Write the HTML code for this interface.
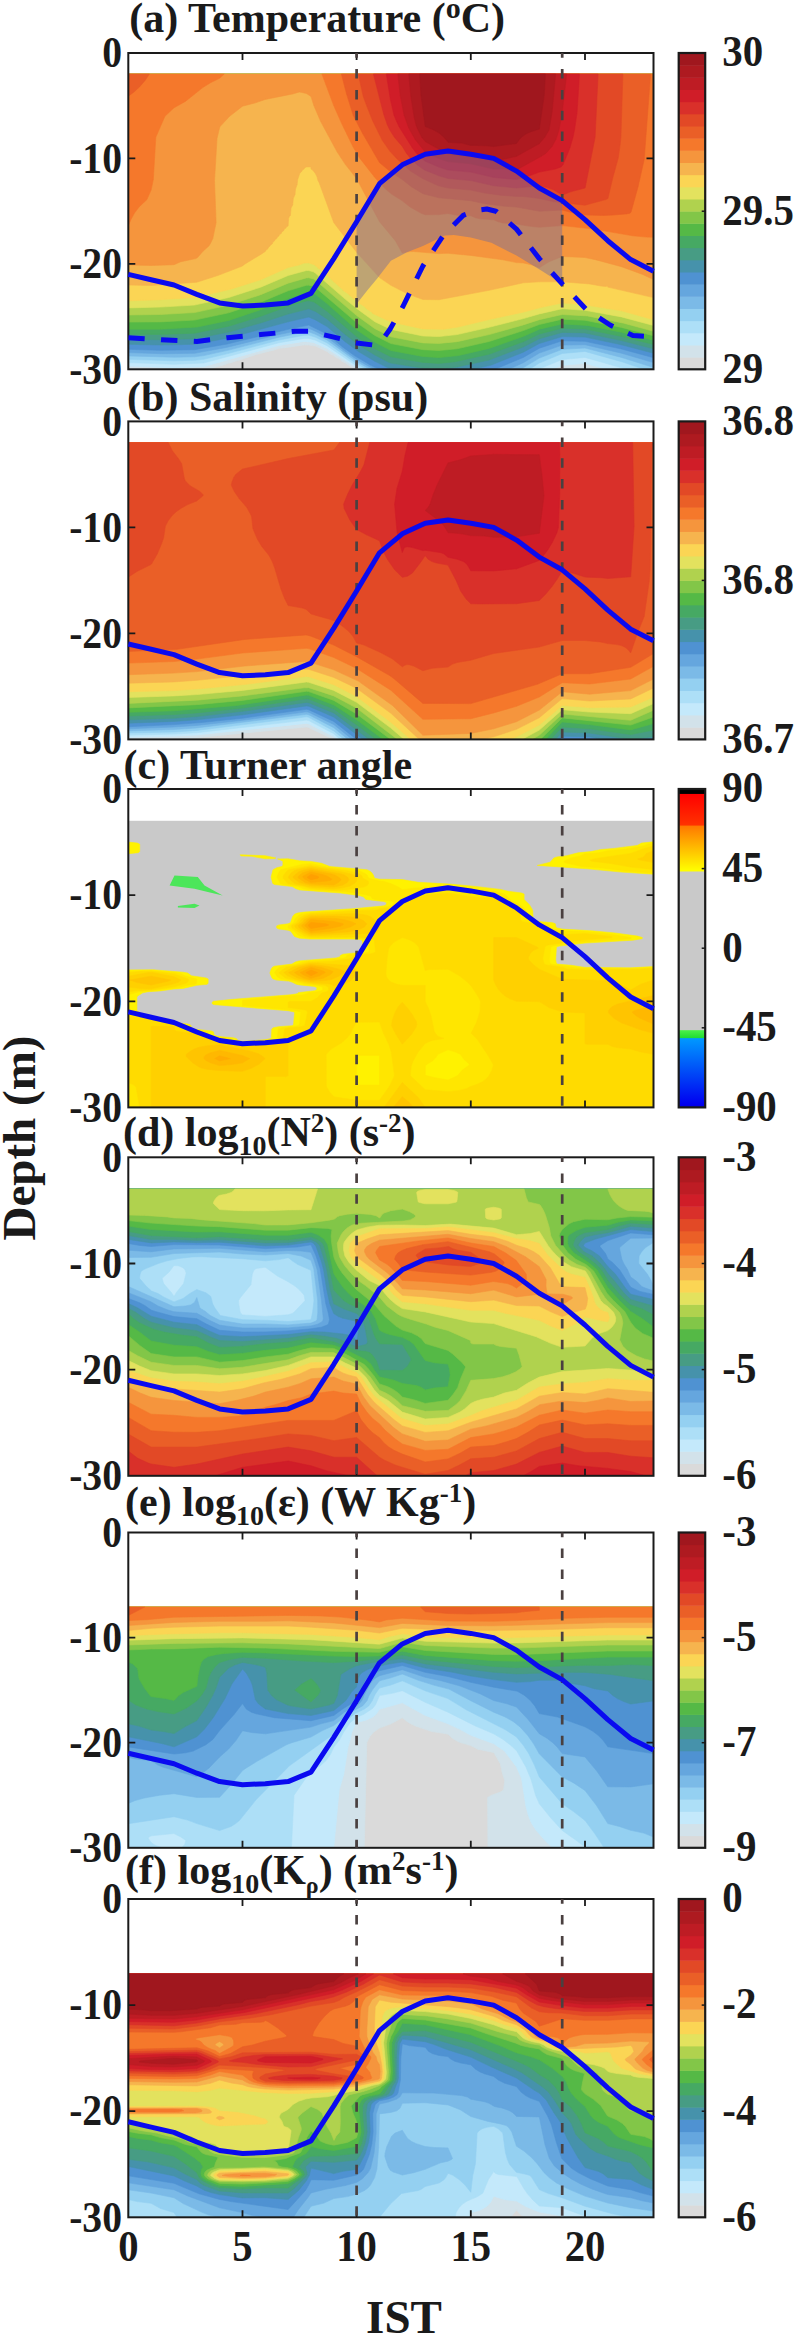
<!DOCTYPE html>
<html><head><meta charset="utf-8"><title>fig</title>
<style>html,body{margin:0;padding:0;background:#fff}svg{display:block}text{fill:#1a1a1a}</style></head>
<body><svg width="794" height="2338" viewBox="0 0 794 2338">
<rect width="794" height="2338" fill="#fff"/>
<clipPath id="clipa"><rect x="128.3" y="53.0" width="525.2" height="316.3"/></clipPath>
<clipPath id="clipb"><rect x="128.3" y="421.4" width="525.2" height="318.0"/></clipPath>
<clipPath id="clipc"><rect x="128.3" y="789.0" width="525.2" height="318.4"/></clipPath>
<clipPath id="clipd"><rect x="128.3" y="1157.3" width="525.2" height="318.5"/></clipPath>
<clipPath id="clipe"><rect x="128.3" y="1532.5" width="525.2" height="315.3"/></clipPath>
<clipPath id="clipf"><rect x="128.3" y="1899.0" width="525.2" height="318.3"/></clipPath>
<g clip-path="url(#clipa)"><rect x="128.3" y="74.1" width="525.2" height="295.2" fill="#dadada"/>
<path fill="#d2e2ea" stroke="#d2e2ea" stroke-width="0.6" fill-rule="evenodd" d="M128.3 74.1L653.5 74.1L653.5 369.3L354.5 369.3L345.2 362.9L341.3 360.9L340.7 359.8L334.6 356.6L333.8 355.6L329.6 353.5L327 351.4L315.5 346.1L308.8 345.1L304.1 344.9L283.6 348L279 348.2L274.4 349.9L256.1 354.5L237.9 360.6L235.6 360.9L231.1 362.7L228.8 363L224.2 364.8L208 369.3L128.3 369.3Z"/>
<path fill="#c4e9fb" stroke="#c4e9fb" stroke-width="0.6" fill-rule="evenodd" d="M128.3 74.1L653.5 74.1L653.5 369.3L606.3 369.3L585 363.3L562.2 365.4L552.1 369.3L358.7 369.3L327 348.5L313.3 342.4L304.1 341.4L279 345.5L203.7 366.7L174 367.9L128.3 366Z"/>
<path fill="#addff7" stroke="#addff7" stroke-width="0.6" fill-rule="evenodd" d="M128.3 74.1L653.5 74.1L653.5 369.3L626.8 369.3L585 357.4L562.2 359.5L538.2 369.3L362.6 369.3L356.6 366L327 345.7L315.5 340.2L308.7 338.4L304.1 338.4L279 342.7L203.7 363L174 364.3L128.3 362.6Z"/>
<path fill="#94d0f1" stroke="#94d0f1" stroke-width="0.6" fill-rule="evenodd" d="M128.3 74.1L653.5 74.1L653.5 369.3L644.2 369.3L622.4 361.9L585 351.4L562.2 353.5L539.3 363L529.5 369.3L366.4 369.3L356.6 363.8L327 342.8L315.5 337.2L308.7 335.1L304.1 335.3L279 340L228.8 353.3L203.7 359.3L194.5 360.2L174 360.8L128.3 359.3Z"/>
<path fill="#7bbae7" stroke="#7bbae7" stroke-width="0.6" fill-rule="evenodd" d="M128.3 74.1L653.5 74.1L653.5 367.5L621.5 357.4L585 348L562.2 349.3L539.3 358.1L520.7 369.3L370.2 369.3L356.6 361.6L327 340L315.5 334.3L308.7 331.7L304.1 332.2L279 337.2L228.8 350.1L203.7 355.6L194.5 356.8L174 357.2L128.3 355.9Z"/>
<path fill="#65a6de" stroke="#65a6de" stroke-width="0.6" fill-rule="evenodd" d="M128.3 74.1L653.5 74.1L653.5 362.6L621.5 353.2L585 344.7L562.2 345.1L539.3 353.1L523.3 362.7L508.7 369.3L374 369.3L356.6 359.4L343.9 350.3L327 337.1L313.3 330.2L308.7 328.4L279 334.5L226.5 347.4L194.5 353.3L162.6 353.7L128.3 352.6Z"/>
<path fill="#4f92d2" stroke="#4f92d2" stroke-width="0.6" fill-rule="evenodd" d="M128.3 74.1L653.5 74.1L653.5 357.7L621.5 349L585 341.3L562.2 340.8L539.3 348.2L523.3 357.4L494.9 369.3L379 369.3L370.3 365.1L354.4 355.6L342.9 347.2L327 334L308.7 325.1L290.4 328.8L227.1 344L194.5 349.7L160.3 350.3L128.3 349.3Z"/>
<path fill="#4692ab" stroke="#4692ab" stroke-width="0.6" fill-rule="evenodd" d="M128.3 74.1L653.5 74.1L653.5 353.2L621.5 344.8L585 337.1L562.2 336.6L539.3 343.5L523.3 352.2L491.4 365L473.1 369.3L393.3 369.3L388.6 368.1L374.9 361.3L358.9 351.8L345.2 341.7L327 326.6L315.5 319.9L308.7 317L288.1 321.8L228.8 337.9L194.5 344.3L160.3 345L128.3 344.3Z"/>
<path fill="#479c84" stroke="#479c84" stroke-width="0.6" fill-rule="evenodd" d="M128.3 74.1L653.5 74.1L653.5 348.8L621.5 340.6L585 332.9L562.2 332.4L539.3 338.7L523.3 346.9L489.1 360L457.1 367L441.1 369.1L422.9 368.2L390.9 363.1L388.6 362.2L374.9 355L358.9 345L345.2 334.4L327 318.9L315.5 311.4L308.7 308.8L288.1 314L260.7 322.9L228.8 332.1L194.5 338.7L160.3 339.8L128.3 339.3Z"/>
<path fill="#46a963" stroke="#46a963" stroke-width="0.6" fill-rule="evenodd" d="M128.3 74.1L653.5 74.1L653.5 344.5L621.5 336.4L585 329L562.2 328.2L539.3 334L523.3 341.7L489.1 354.2L454.8 361.8L438.9 363.4L422.9 362.4L390.9 356.8L374.9 348.7L356.6 336.6L327 311.2L315.5 302.9L313.3 301.7L308.7 300.7L306.4 300.9L288.1 306.2L260.7 316.3L228.8 326.2L194.5 333.2L160.3 334.5L128.3 334.2Z"/>
<path fill="#55b946" stroke="#55b946" stroke-width="0.6" fill-rule="evenodd" d="M128.3 74.1L653.5 74.1L653.5 340.3L621.5 332.2L587.3 325.4L562.2 324L539.3 329.2L523.3 336.4L489.1 348.4L458.5 355.6L438.9 357.6L422.9 356.5L390.9 350.5L374.9 342.3L356.6 329.7L327 303.6L315.5 294.5L313.3 293.3L308.7 292.5L306.4 292.7L288.1 298.4L260.7 309.7L228.8 320.4L197 327.1L160.3 329.2L128.3 329.2Z"/>
<path fill="#82c648" stroke="#82c648" stroke-width="0.6" fill-rule="evenodd" d="M128.3 74.1L653.5 74.1L653.5 335.8L621.5 327.4L585 320.3L562.2 319.2L539.3 324.5L523.3 330.6L489.1 341.5L457.1 348.8L438.9 350.5L422.9 349.7L390.9 343.6L374.9 335.5L356.6 322.6L315.5 287.4L313.3 286.1L308.7 285.2L306.4 285.3L288.1 290.8L260.7 302.2L228.8 312.8L194.5 320.1L160.3 321.9L128.3 322.1Z"/>
<path fill="#b0d24e" stroke="#b0d24e" stroke-width="0.6" fill-rule="evenodd" d="M128.3 74.1L653.5 74.1L653.5 331.3L623.8 323.2L587.3 315.9L562.2 314.5L539.3 319.7L523.3 324.9L489.1 334.6L457.1 341.7L438.9 343.4L422.9 342.9L390.9 336.8L374.9 328.7L356.6 315.5L315.5 280.3L313.3 278.9L308.7 277.8L306.4 277.9L288.1 283.2L260.7 294.7L228.8 305.1L194.5 312.6L160.3 314.5L128.3 315Z"/>
<path fill="#e3e25e" stroke="#e3e25e" stroke-width="0.6" fill-rule="evenodd" d="M128.3 74.1L653.5 74.1L653.5 325.5L621.5 316.9L585 310.3L562.2 308.7L539.3 313.9L523.3 318.6L489.1 327.3L457.1 334.6L438.9 336.6L422.9 336L390.9 329.4L374.9 321.8L357.7 309.2L345.2 299.1L315.5 273.2L313.3 271.8L308.7 270.5L306.4 270.5L288.1 275.5L260.7 287.2L228.8 297.5L194.5 305.1L160.3 307.1L128.3 307.9Z"/>
<path fill="#fbd554" stroke="#fbd554" stroke-width="0.6" fill-rule="evenodd" d="M128.3 74.1L653.5 74.1L653.5 319.7L621.5 310.8L582.7 304.5L562.2 302.9L541.6 307.3L522 312.4L491.4 319L457.9 327.1L443.4 329.3L422.9 328.9L390.9 321.9L372.6 313.4L372.2 312.4L365.8 308.2L365.3 307.1L358.9 302.9L358.4 301.8L352.1 297.6L351.7 296.6L349.8 295.6L349.1 294.4L342.9 290.2L342.7 289.2L340.7 288.1L340.3 287.1L338.4 286L338 285L336.1 283.9L335.7 282.8L333.8 281.9L333.3 280.7L331.5 279.8L331 278.6L329.2 277.7L328.6 276.5L327 275.6L319.9 269.1L317.8 268.1L317.6 267L315.5 266L315 264.9L308.7 262.9L304.1 263.1L299.1 264.9L288.1 267.5L260.7 279.7L230.8 289.2L194.5 297.6L160.6 299.7L128.3 300.8Z"/>
<path fill="#f6b44e" stroke="#f6b44e" stroke-width="0.6" fill-rule="evenodd" d="M128.3 74.1L653.5 74.1L653.5 297.6L607.8 287.1L607.8 286L605.5 286.4L601 286L589.6 283.9L562.2 281.8L539.3 281.8L523.3 282.8L489.1 290.3L438.9 299.7L422.9 299.5L406.9 293.5L390.9 285.3L379.5 277.6L356.6 252.3L333.8 222.7L319.2 182.7L318 180.6L316.9 176.4L315.2 173.2L312.6 170L311 169L311 166.9L306.4 166.9L304.4 167.9L304.1 169L302.4 170L301.8 171.3L299.8 173.2L297.7 179.5L297.1 184.8L295.5 189L295 194.4L293.3 198.5L292.7 204.9L291 208L290.4 215.4L289.4 216.4L288.6 218.5L288.1 225.9L286.2 227L285.9 228.1L284.3 229.1L283.6 230.7L281.6 232.2L281.3 233.4L279.7 234.3L279 235.8L277.1 237.5L276.7 238.6L275.1 239.6L274.4 241L272.5 242.8L272.2 243.9L270.5 244.9L269.9 246.2L268.7 247L267.6 249.1L265.8 250.2L265.3 251.4L260.8 254.4L243.5 264.9L242.5 266L217.8 275.5L196.8 282.2L151.1 285.5L128.3 285Z"/>
<path fill="#f5953d" stroke="#f5953d" stroke-width="0.6" fill-rule="evenodd" d="M128.3 74.1L653.5 74.1L653.5 279.6L642.6 274.4L621.5 266.7L596.4 259.9L585 257.5L562.2 256.4L549 261.8L539.3 267.8L532 264.9L523.3 262.9L516.5 262.6L502.8 259.8L470.8 255.4L448 253.3L438.9 253.6L413.7 251.5L409.2 251.6L402.3 253.1L395.3 240.7L379.5 221.7L356.6 178.6L345.6 164.8L337.2 152.1L320.7 121.5L313.9 105.7L311 96.4L306.4 93.5L299.6 91.9L292.7 93.9L265.3 99.4L256.2 102.6L242.5 106.2L229.6 116.3L219.8 126.8L217 138.4L214.5 180.6L216.1 222.7L212.8 238.6L210.3 243.8L208.9 245.9L203 251.2L197.6 257.5L195.8 258.6L180.8 261.7L174 264.7L151.1 265.5L128.3 264.9Z"/>
<path fill="#f5782b" stroke="#f5782b" stroke-width="0.6" fill-rule="evenodd" d="M128.3 74.1L224.2 74.1L219.6 78.3L210.5 82.7L202.4 87.8L185.4 101.4L174 107.8L164.9 116.3L155.8 137.3L153.3 179.5L151.1 190.1L146.9 199.6L139.1 206.9L134.3 213.3L130.9 219.6L128.3 225.9ZM321.9 74.1L653.5 74.1L653.5 237.2L646.6 237.1L632.9 235.8L593.7 229.1L562.2 225.6L539.3 227.2L530.2 226.3L516.5 224.1L502.8 222.9L498.2 221.7L493.7 219.8L480 218.8L475.4 217.7L470.8 215.7L457.1 215.3L448 213.5L438.9 214.6L425.2 214.7L421.2 213.3L410 206.9L402 200.6L391.9 194.3L386.7 190.1L379.5 182.8L374 176.4L359.2 157.4L353 146.8L341.7 123.6L333.8 105.7Z"/>
<path fill="#ea5f27" stroke="#ea5f27" stroke-width="0.6" fill-rule="evenodd" d="M128.3 74.1L149.4 74.1L145.1 80.4L139.7 86.7L134 92L128.3 96.2ZM341.4 74.1L650.6 74.1L644.2 159.5L638 186.9L631 212.2L629.8 213.3L626.1 213.9L612.4 215.1L603.3 215.4L585 214.9L571.3 212.4L562.2 210.1L539.3 211.2L516.5 207.1L502.8 206.1L484.9 203.8L470.8 200.7L438.9 197.8L422.9 193.7L411.7 186.9L402.3 179.6L390.9 172.1L379.5 162.6L362.4 133.1L353.2 115.2L346.6 94.1Z"/>
<path fill="#e24926" stroke="#e24926" stroke-width="0.6" fill-rule="evenodd" d="M358.2 74.1L622.9 74.1L620.9 137.3L620.1 144.7L618.4 157.4L612.9 177.4L607.9 198.5L605.7 199.6L585 205.2L553.9 201.7L539.3 198.5L531.7 197.4L523.3 196.5L516.5 196.4L500.5 195.2L484.5 193L470.8 190.1L448 188L438.4 185.8L422.9 178.7L410.5 171.1L396.6 158.4L389.8 151.1L382.4 140.5L372.5 120.5L365.8 103.6L363.2 96.2Z"/>
<path fill="#d9302a" stroke="#d9302a" stroke-width="0.6" fill-rule="evenodd" d="M373.4 74.1L598.1 74.1L595.1 137.3L585.1 188L571.3 191.6L562.2 195L553 189.6L546.2 187.3L539.3 185.8L516.5 188L493.7 185.8L470.8 180.6L448 178.5L438.9 175.8L424.5 170L417.1 164.8L410.6 158.4L406.4 153.2L402.3 146.4L394.4 137.3L389.8 130L387.3 124.7L383.7 114.2Z"/>
<path fill="#d01d28" stroke="#d01d28" stroke-width="0.6" fill-rule="evenodd" d="M386.3 74.1L579.5 74.1L577 113.1L574.5 130L573 137.3L569.9 147.9L563 164.8L561.1 166.9L555.4 169L539.3 172.1L530.7 175.3L516.5 179.5L493.7 177.4L470.8 172.1L448 170L438.9 167.1L425.2 161.2L417.3 154.2L412.4 147.9L399.1 126.8L396.6 121.5L394 115.2L390.4 99.4Z"/>
<path fill="#be1c24" stroke="#be1c24" stroke-width="0.6" fill-rule="evenodd" d="M397.8 74.1L566.7 74.1L562.1 113.1L559 130L555.9 139.5L551.8 146.8L546 153.2L541.3 156.3L516.5 169.9L505.1 169.1L493.7 169L470.8 163.7L448 161.6L438.9 158.6L425.2 152.1L415.2 139.5L408.7 127.9L404.1 115.2L400.2 95.2Z"/>
<path fill="#ae1a20" stroke="#ae1a20" stroke-width="0.6" fill-rule="evenodd" d="M408.8 74.1L555.6 74.1L552.1 112L549 130L544.7 137.3L539.3 143.7L516.5 156.3L493.7 161.4L486.8 158.9L480 157.4L448 154.1L425.2 141.6L421.8 137.3L417.6 128.9L416.3 125.7L414.2 117.3L410.8 96.2Z"/>
<path fill="#a0171e" stroke="#a0171e" stroke-width="0.6" fill-rule="evenodd" d="M419.7 74.1L545.4 74.1L544.2 95.2L539.3 129.1L530.2 131.9L525.3 134.2L520.1 138.4L516.5 143.4L514.9 143.7L493.7 146.5L484.5 145.6L470.8 145.4L461.7 143.1L448 142.3L445.2 138.4L439.2 133.1L433.8 130L425.2 126.4L421 95.2Z"/></g>
<polygon points="356.6,221.7 379.5,183.7 402.3,164.8 425.2,154.2 448.0,151.1 470.8,154.2 493.7,158.4 516.5,171.1 539.3,188.0 562.2,200.6 562.2,283.9 541.6,270.7 516.5,255.4 491.4,242.8 470.8,237.5 453.9,234.9 444.8,235.4 422.9,245.9 406.9,252.3 390.9,260.7 377.2,278.6 367.4,290.2 356.6,303.9" fill="#7a6c96" fill-opacity="0.47"/>
<rect x="128.3" y="53.0" width="525.2" height="316.3" fill="none" stroke="#1a1a1a" stroke-width="2"/>
<path d="M242.5 53.0v7M242.5 369.3v-7M356.6 53.0v7M356.6 369.3v-7M470.8 53.0v7M470.8 369.3v-7M585.0 53.0v7M585.0 369.3v-7M128.3 158.4h7M653.5 158.4h-7M128.3 263.9h7M653.5 263.9h-7" stroke="#1a1a1a" stroke-width="1.8" fill="none"/>
<line x1="356.6" y1="53.0" x2="356.6" y2="369.3" stroke="#4a4040" stroke-width="2.7" stroke-dasharray="9.5 11.3" stroke-dashoffset="4.7"/>
<line x1="562.2" y1="53.0" x2="562.2" y2="369.3" stroke="#4a4040" stroke-width="2.7" stroke-dasharray="9.5 11.3" stroke-dashoffset="4.7"/>
<text transform="translate(122,67.2) scale(0.915,1)" text-anchor="end" font-size="43.3" font-family="Liberation Serif" font-weight="bold">0</text>
<text transform="translate(122,172.6) scale(0.915,1)" text-anchor="end" font-size="43.3" font-family="Liberation Serif" font-weight="bold">-10</text>
<text transform="translate(122,278.1) scale(0.915,1)" text-anchor="end" font-size="43.3" font-family="Liberation Serif" font-weight="bold">-20</text>
<text transform="translate(122,383.5) scale(0.915,1)" text-anchor="end" font-size="43.3" font-family="Liberation Serif" font-weight="bold">-30</text>
<polyline points="128.3,274.4 151.1,279.7 174.0,285.0 196.8,294.4 219.6,302.9 242.5,306.0 265.3,305.0 288.1,302.9 311.0,293.4 333.8,258.6 356.6,221.7 379.5,183.7 402.3,164.8 425.2,154.2 448.0,151.1 470.8,154.2 493.7,158.4 516.5,171.1 539.3,188.0 562.2,200.6 585.0,219.6 607.8,240.7 630.7,259.6 653.5,271.2" fill="none" stroke="#0a0af0" stroke-width="5" stroke-linejoin="round"/>
<polyline points="128.3,337.7 161.2,339.8 196.8,341.4 227.6,337.7 260.7,334.5 295.0,331.3 308.7,331.3 333.8,337.1 356.6,342.9 373.8,345.1 381.8,340.8 390.0,329.2 403.2,306.0 422.9,266.0 443.4,235.4 463.1,215.4 477.7,210.1 486.8,209.0 495.9,211.2 516.5,229.1 539.3,258.6 562.2,283.9 586.1,309.2 610.1,325.0 632.9,335.6 653.5,336.6" fill="none" stroke="#0a0af0" stroke-width="5" stroke-dasharray="16.4 16.4" stroke-linejoin="round" clip-path="url(#clipa)"/>
<rect x="678.7" y="357.13" width="26.5" height="12.67" fill="#dadada"/>
<rect x="678.7" y="344.97" width="26.5" height="12.67" fill="#d2e2ea"/>
<rect x="678.7" y="332.80" width="26.5" height="12.67" fill="#c4e9fb"/>
<rect x="678.7" y="320.64" width="26.5" height="12.67" fill="#addff7"/>
<rect x="678.7" y="308.47" width="26.5" height="12.67" fill="#94d0f1"/>
<rect x="678.7" y="296.31" width="26.5" height="12.67" fill="#7bbae7"/>
<rect x="678.7" y="284.14" width="26.5" height="12.67" fill="#65a6de"/>
<rect x="678.7" y="271.98" width="26.5" height="12.67" fill="#4f92d2"/>
<rect x="678.7" y="259.81" width="26.5" height="12.67" fill="#4692ab"/>
<rect x="678.7" y="247.65" width="26.5" height="12.67" fill="#479c84"/>
<rect x="678.7" y="235.48" width="26.5" height="12.67" fill="#46a963"/>
<rect x="678.7" y="223.32" width="26.5" height="12.67" fill="#55b946"/>
<rect x="678.7" y="211.15" width="26.5" height="12.67" fill="#82c648"/>
<rect x="678.7" y="198.98" width="26.5" height="12.67" fill="#b0d24e"/>
<rect x="678.7" y="186.82" width="26.5" height="12.67" fill="#e3e25e"/>
<rect x="678.7" y="174.65" width="26.5" height="12.67" fill="#fbd554"/>
<rect x="678.7" y="162.49" width="26.5" height="12.67" fill="#f6b44e"/>
<rect x="678.7" y="150.32" width="26.5" height="12.67" fill="#f5953d"/>
<rect x="678.7" y="138.16" width="26.5" height="12.67" fill="#f5782b"/>
<rect x="678.7" y="125.99" width="26.5" height="12.67" fill="#ea5f27"/>
<rect x="678.7" y="113.83" width="26.5" height="12.67" fill="#e24926"/>
<rect x="678.7" y="101.66" width="26.5" height="12.67" fill="#d9302a"/>
<rect x="678.7" y="89.50" width="26.5" height="12.67" fill="#d01d28"/>
<rect x="678.7" y="77.33" width="26.5" height="12.67" fill="#be1c24"/>
<rect x="678.7" y="65.17" width="26.5" height="12.67" fill="#ae1a20"/>
<rect x="678.7" y="53.00" width="26.5" height="12.67" fill="#a0171e"/>
<rect x="678.7" y="53.0" width="26.5" height="316.3" fill="none" stroke="#1a1a1a" stroke-width="2.2"/>
<text transform="translate(722.3,66.3) scale(0.945,1)" font-size="43.3" font-family="Liberation Serif" font-weight="bold">30</text>
<path d="M705.2 211.2h-3.5" stroke="#1a1a1a" stroke-width="1.5"/>
<text transform="translate(722.3,224.5) scale(0.945,1)" font-size="43.3" font-family="Liberation Serif" font-weight="bold">29.5</text>
<text transform="translate(722.3,382.6) scale(0.945,1)" font-size="43.3" font-family="Liberation Serif" font-weight="bold">29</text>
<text x="129.2" y="32.2" font-size="42" font-family="Liberation Serif" font-weight="bold">(a) Temperature (<tspan dy="-14" font-size="30">o</tspan><tspan dy="14">C)</tspan></text>
<g clip-path="url(#clipb)"><rect x="128.3" y="442.6" width="525.2" height="296.8" fill="#dadada"/>
<path fill="#d2e2ea" stroke="#d2e2ea" stroke-width="0.6" fill-rule="evenodd" d="M128.3 442.6L653.5 442.6L653.5 739.4L333.8 739.4L308.7 727.6L306.4 727.1L192.2 738L174 738.3L162.6 739.2L128.3 739.4Z"/>
<path fill="#c4e9fb" stroke="#c4e9fb" stroke-width="0.6" fill-rule="evenodd" d="M128.3 442.6L653.5 442.6L653.5 739.4L337 739.4L333.8 736.6L308.7 723.9L306.4 723.4L196.8 735L174 736.2L128.3 737.3Z"/>
<path fill="#addff7" stroke="#addff7" stroke-width="0.6" fill-rule="evenodd" d="M128.3 442.6L653.5 442.6L653.5 739.4L340.3 739.4L333.8 733.7L308.7 720.6L306.4 720.1L196.8 732.7L174 734.1L128.3 735.2Z"/>
<path fill="#94d0f1" stroke="#94d0f1" stroke-width="0.6" fill-rule="evenodd" d="M128.3 442.6L653.5 442.6L653.5 739.4L344 739.4L333.8 730.9L308.7 717.3L306.4 716.8L196.8 730.4L174 732L128.3 733Z"/>
<path fill="#7bbae7" stroke="#7bbae7" stroke-width="0.6" fill-rule="evenodd" d="M128.3 442.6L653.5 442.6L653.5 739.4L348 739.4L333.8 727.7L308.7 714.7L306.4 714.3L196.8 727.9L174 729.5L128.3 730.9Z"/>
<path fill="#65a6de" stroke="#65a6de" stroke-width="0.6" fill-rule="evenodd" d="M128.3 442.6L653.5 442.6L653.5 739.4L352.3 739.4L333.8 724.6L308.7 712.2L306.4 711.8L242.5 720.3L196.8 725.4L174 727L128.3 728.8Z"/>
<path fill="#4f92d2" stroke="#4f92d2" stroke-width="0.6" fill-rule="evenodd" d="M128.3 442.6L653.5 442.6L653.5 739.4L356.6 739.4L333.8 721.4L308.7 709.7L306.4 709.3L242.5 718.2L201.4 722.5L174 724.6L128.3 726.7Z"/>
<path fill="#4692ab" stroke="#4692ab" stroke-width="0.6" fill-rule="evenodd" d="M128.3 442.6L653.5 442.6L653.5 739.4L603.3 739.4L589.6 736.8L562.2 736.2L559.2 739.4L363 739.4L333.8 717.1L308.7 706.2L306.4 705.9L242.5 714.8L196.8 719.8L174 721.4L128.3 723.2Z"/>
<path fill="#479c84" stroke="#479c84" stroke-width="0.6" fill-rule="evenodd" d="M128.3 442.6L653.5 442.6L653.5 736.7L630.7 739.4L589.6 733L562.2 732L555.2 739.4L369.3 739.4L333.8 712.9L308.7 702.7L306.4 702.4L242.5 711.3L196.8 716.6L174 718.2L128.3 719.8Z"/>
<path fill="#46a963" stroke="#46a963" stroke-width="0.6" fill-rule="evenodd" d="M128.3 442.6L653.5 442.6L653.5 730.1L630.7 734.6L589.6 728.8L562.2 726.9L550.4 739.4L376.2 739.4L356.6 724.8L333.8 708.9L308.7 699L306.4 698.8L242.5 708.1L196.8 712.9L174 714.5L128.3 716.1Z"/>
<path fill="#55b946" stroke="#55b946" stroke-width="0.6" fill-rule="evenodd" d="M128.3 442.6L653.5 442.6L653.5 723.5L630.7 729.9L589.6 724.6L562.2 722L545.4 739.4L383.2 739.4L356.6 719.8L333.8 704.9L308.7 695.3L306.4 695.1L236.6 705.5L174 710.8L128.3 712.3Z"/>
<path fill="#82c648" stroke="#82c648" stroke-width="0.6" fill-rule="evenodd" d="M128.3 442.6L653.5 442.6L653.5 716.9L630.7 725.1L562.2 717.9L540.4 739.4L390.7 739.4L356.6 714L333.8 700.4L308.7 691.6L306.4 691.3L242.5 700.4L196.8 704.7L128.3 707.9Z"/>
<path fill="#b0d24e" stroke="#b0d24e" stroke-width="0.6" fill-rule="evenodd" d="M128.3 442.6L653.5 442.6L653.5 710.2L630.7 720.3L562.2 714L539.3 735.2L531.7 739.4L397.5 739.4L356.6 708.1L333.8 695.9L308.7 687.7L304.1 687.8L242.5 695.9L196.8 700.2L128.3 703.4Z"/>
<path fill="#e3e25e" stroke="#e3e25e" stroke-width="0.6" fill-rule="evenodd" d="M128.3 442.6L653.5 442.6L653.5 703.6L630.7 713.7L589.6 712.1L562.2 709.7L539.3 730.1L521.9 739.4L404.2 739.4L390.9 728.1L356.6 702.3L333.8 690.4L308.7 682.3L306.4 682L242.5 690.4L196.8 694.6L174 695.9L128.3 697.5Z"/>
<path fill="#fbd554" stroke="#fbd554" stroke-width="0.6" fill-rule="evenodd" d="M128.3 442.6L653.5 442.6L653.5 697L630.7 707L589.6 707.6L562.2 705.5L539.3 725L516.5 736.7L508.7 739.4L410.9 739.4L389.9 721.4L356.6 696.4L333.8 684.7L308.7 676.7L306.4 676.4L246.3 684.3L202.3 688.5L174 690.6L128.3 691.7Z"/>
<path fill="#f6b44e" stroke="#f6b44e" stroke-width="0.6" fill-rule="evenodd" d="M128.3 442.6L653.5 442.6L653.5 688L630.7 698.9L589.6 701L562.2 698.6L539.3 717.7L516.5 729.3L493.7 736.8L481.6 739.4L419.4 739.4L390.9 713.3L356.6 688.3L333.8 677.4L308.7 669.3L306.4 669L196.8 680.3L174 681.9L128.3 683.2Z"/>
<path fill="#f5953d" stroke="#f5953d" stroke-width="0.6" fill-rule="evenodd" d="M128.3 442.6L653.5 442.6L653.5 679L630.7 690.6L589.6 694.2L562.2 691.7L539.3 710.1L516.5 721.7L493.7 728.8L470.8 733.4L422.9 735.2L392.5 705.5L358.3 681.1L333.8 669.8L308.7 661.8L306.4 661.4L244.8 666L196.8 671.6L174 673.1L128.3 674.7Z"/>
<path fill="#f5782b" stroke="#f5782b" stroke-width="0.6" fill-rule="evenodd" d="M128.3 442.6L653.5 442.6L653.5 666.3L630.7 679L589.6 684L562.2 682.7L539.3 697L516.5 706.3L493.7 712.9L470.8 718.7L422.9 719.3L390.9 690.3L356.6 668.4L333.8 657.5L308.7 648.6L306.4 648.3L242.5 653L196.8 659.1L174 661.5L128.3 663.1Z"/>
<path fill="#ea5f27" stroke="#ea5f27" stroke-width="0.6" fill-rule="evenodd" d="M128.3 442.6L653.5 442.6L653.5 653.5L630.7 667.3L589.6 673.7L562.2 673.7L537.3 684.3L470.8 703.6L422.9 703.4L394.4 679L390.1 675.8L356.6 656.7L333.8 645.1L311 636.2L306.4 634.9L244.8 639.4L177.1 649.3L128.3 651.4Z"/>
<path fill="#e24926" stroke="#e24926" stroke-width="0.6" fill-rule="evenodd" d="M128.3 442.6L168.3 442.6L172.5 451.1L178.5 458.7L181.7 463.8L184.4 478.6L185.2 480.8L190 485.7L199.9 491.4L202.8 494.5L203.2 495.6L196.8 500.9L187.7 504.6L180.8 508.4L176.5 511.5L171.9 515.7L168 521L165.3 526.3L163.6 538L161.7 543.3L157.3 553.9L151.8 563.4L151 564.5L137.4 571.2L128.3 577.2ZM339.5 442.6L653.5 442.6L651.6 453.2L650.7 544.4L650.1 569.8L649.2 581.5L644.2 616.4L637.4 633.4L630.7 652.9L627.7 649.3L625 647.2L621.5 645.6L617 644.6L607.8 643.6L600.4 641.9L585 640.5L562.2 640.5L539.3 647L493.7 653.5L470.8 660.2L457.1 662.5L452.5 664.1L448 667L432 668.3L422.9 670.7L413.7 666.1L409.2 664.7L406.9 664.6L404.8 665.2L402.3 666.8L392.3 658.8L380.5 652.5L363.5 644.8L356.6 643L353.1 636.6L348.7 631.3L342.2 626L333.8 620.5L311 613.9L306.4 609.5L302.4 608L288.1 605.5L284.6 598.4L280.9 588.9L274.6 567.7L272.2 561.3L268.7 555L261.8 546.5L257.3 539.1L252.9 528.5L251.6 516.8L250.8 514.7L246.7 507.3L239.3 498.8L234.3 491.4L231.2 485L232.1 481.8L233.7 477.6L235.7 474.4L242.5 469.1L288.1 458.6L333.8 450Z"/>
<path fill="#d9302a" stroke="#d9302a" stroke-width="0.6" fill-rule="evenodd" d="M369.7 442.6L632.7 442.6L634.1 526.3L630.7 576.8L607.8 578.5L601 577.7L587.4 577.2L585 577L572.4 573L562.2 570.9L557.1 579.3L551.8 586.8L545.6 594.2L539.3 600.5L516.5 603.7L482.2 603.9L470.8 603.8L466.3 599.3L460.6 591L456.1 580.4L448 565.1L436.6 563L432 561.6L428.1 559.2L425.2 555.6L421.4 561.3L412.4 573L407.5 576.2L402.3 577.3L394.7 569.8L387.3 559.2L383 550.7L379.5 540.8L366.5 534.8L356.6 529.5L349.8 520L344.1 508.3L343.6 504.1L347.5 494.5L352.2 485L360.1 472.3L363.9 464.9Z"/>
<path fill="#d01d28" stroke="#d01d28" stroke-width="0.6" fill-rule="evenodd" d="M408 442.6L559.3 442.6L559.8 454.3L559.7 493.5L558.4 527.4L556.9 532.7L552.4 542.2L547.9 549.7L543.1 556L539.3 560.4L516.5 568.8L493.7 570.9L470.8 570.8L467.2 564.5L464 561.8L457.2 559.2L448 557.3L444.1 553.9L441.1 552.7L425.2 550.3L422.9 550.6L411.5 547.3L406.9 546.7L404.4 547.5L402.3 552.5L397.1 532.7L394.6 504.1L397 488.2L402.3 471.2L405 455.3Z"/>
<path fill="#be1c24" stroke="#be1c24" stroke-width="0.6" fill-rule="evenodd" d="M493.7 454.4L539.3 454.7L541.9 474.4L544 495.6L539.3 533.2L516.5 536.8L493.7 537.2L484.5 536L470.8 535.6L461.9 533.8L448 532.6L444.3 526.3L440.6 522.1L425.2 510.4L428.3 507.3L430.1 504.1L433.2 494.5L437.1 485L448 462.9L461.1 459.6L470.8 456Z"/></g>
<rect x="128.3" y="421.4" width="525.2" height="318.0" fill="none" stroke="#1a1a1a" stroke-width="2"/>
<path d="M242.5 421.4v7M242.5 739.4v-7M356.6 421.4v7M356.6 739.4v-7M470.8 421.4v7M470.8 739.4v-7M585.0 421.4v7M585.0 739.4v-7M128.3 527.4h7M653.5 527.4h-7M128.3 633.4h7M653.5 633.4h-7" stroke="#1a1a1a" stroke-width="1.8" fill="none"/>
<line x1="356.6" y1="421.4" x2="356.6" y2="739.4" stroke="#4a4040" stroke-width="2.7" stroke-dasharray="9.5 11.3" stroke-dashoffset="4.7"/>
<line x1="562.2" y1="421.4" x2="562.2" y2="739.4" stroke="#4a4040" stroke-width="2.7" stroke-dasharray="9.5 11.3" stroke-dashoffset="4.7"/>
<text transform="translate(122,435.6) scale(0.915,1)" text-anchor="end" font-size="43.3" font-family="Liberation Serif" font-weight="bold">0</text>
<text transform="translate(122,541.6) scale(0.915,1)" text-anchor="end" font-size="43.3" font-family="Liberation Serif" font-weight="bold">-10</text>
<text transform="translate(122,647.6) scale(0.915,1)" text-anchor="end" font-size="43.3" font-family="Liberation Serif" font-weight="bold">-20</text>
<text transform="translate(122,753.6) scale(0.915,1)" text-anchor="end" font-size="43.3" font-family="Liberation Serif" font-weight="bold">-30</text>
<polyline points="128.3,644.0 151.1,649.3 174.0,654.6 196.8,664.1 219.6,672.6 242.5,675.8 265.3,674.7 288.1,672.6 311.0,663.1 333.8,628.1 356.6,591.0 379.5,552.8 402.3,533.8 425.2,523.2 448.0,520.0 470.8,523.2 493.7,527.4 516.5,540.1 539.3,557.1 562.2,569.8 585.0,588.9 607.8,610.1 630.7,629.2 653.5,640.8" fill="none" stroke="#0a0af0" stroke-width="5" stroke-linejoin="round"/>
<rect x="678.7" y="727.17" width="26.5" height="12.73" fill="#dadada"/>
<rect x="678.7" y="714.94" width="26.5" height="12.73" fill="#d2e2ea"/>
<rect x="678.7" y="702.71" width="26.5" height="12.73" fill="#c4e9fb"/>
<rect x="678.7" y="690.48" width="26.5" height="12.73" fill="#addff7"/>
<rect x="678.7" y="678.25" width="26.5" height="12.73" fill="#94d0f1"/>
<rect x="678.7" y="666.02" width="26.5" height="12.73" fill="#7bbae7"/>
<rect x="678.7" y="653.78" width="26.5" height="12.73" fill="#65a6de"/>
<rect x="678.7" y="641.55" width="26.5" height="12.73" fill="#4f92d2"/>
<rect x="678.7" y="629.32" width="26.5" height="12.73" fill="#4692ab"/>
<rect x="678.7" y="617.09" width="26.5" height="12.73" fill="#479c84"/>
<rect x="678.7" y="604.86" width="26.5" height="12.73" fill="#46a963"/>
<rect x="678.7" y="592.63" width="26.5" height="12.73" fill="#55b946"/>
<rect x="678.7" y="580.40" width="26.5" height="12.73" fill="#82c648"/>
<rect x="678.7" y="568.17" width="26.5" height="12.73" fill="#b0d24e"/>
<rect x="678.7" y="555.94" width="26.5" height="12.73" fill="#e3e25e"/>
<rect x="678.7" y="543.71" width="26.5" height="12.73" fill="#fbd554"/>
<rect x="678.7" y="531.48" width="26.5" height="12.73" fill="#f6b44e"/>
<rect x="678.7" y="519.25" width="26.5" height="12.73" fill="#f5953d"/>
<rect x="678.7" y="507.02" width="26.5" height="12.73" fill="#f5782b"/>
<rect x="678.7" y="494.78" width="26.5" height="12.73" fill="#ea5f27"/>
<rect x="678.7" y="482.55" width="26.5" height="12.73" fill="#e24926"/>
<rect x="678.7" y="470.32" width="26.5" height="12.73" fill="#d9302a"/>
<rect x="678.7" y="458.09" width="26.5" height="12.73" fill="#d01d28"/>
<rect x="678.7" y="445.86" width="26.5" height="12.73" fill="#be1c24"/>
<rect x="678.7" y="433.63" width="26.5" height="12.73" fill="#ae1a20"/>
<rect x="678.7" y="421.40" width="26.5" height="12.73" fill="#a0171e"/>
<rect x="678.7" y="421.4" width="26.5" height="318.0" fill="none" stroke="#1a1a1a" stroke-width="2.2"/>
<text transform="translate(722.3,434.7) scale(0.945,1)" font-size="43.3" font-family="Liberation Serif" font-weight="bold">36.8</text>
<path d="M705.2 580.4h-3.5" stroke="#1a1a1a" stroke-width="1.5"/>
<text transform="translate(722.3,593.7) scale(0.945,1)" font-size="43.3" font-family="Liberation Serif" font-weight="bold">36.8</text>
<text transform="translate(722.3,752.7) scale(0.945,1)" font-size="43.3" font-family="Liberation Serif" font-weight="bold">36.7</text>
<text x="127.1" y="411.4" font-size="42" font-family="Liberation Serif" font-weight="bold">(b) Salinity (psu)</text>
<g clip-path="url(#clipc)"><rect x="128.3" y="820.8" width="525.2" height="286.6" fill="#c9c9c9"/>
<path fill="#fff200" stroke="#fff200" stroke-width="0.6" fill-rule="evenodd" d="M128.3 842.1L137.3 843.1L139.7 844.2L139.7 851.6L138.2 852.7L128.3 853.7ZM653.5 841.8L653.5 874.2L621.5 872.1L587.3 868.8L537.3 865.4L550.2 862.2L553.8 858L557 856.9L566.7 855.7L578.1 852.8L590.8 851.6L601.1 849.5L613.9 848.4L635.2 845.7L637.6 845.3L641.5 843.1ZM240.1 854.8L265.3 855.7L275.9 858L274.4 858.6L265.3 858.8L251.6 856.3L241 855.9ZM277.5 859L288.1 858.8L299.6 860.8L311 861.4L321.6 863.3L329.8 866.5L366.8 869.7L369.4 870.7L371.8 872.8L373.3 875L374.5 878.2L379.5 879.2L402.3 879.6L418.3 882.3L450.3 884.1L475.4 886.4L500.5 889.4L507.4 891.1L521.6 893L524.1 894.1L524.1 899.4L529.4 904.7L532 908.9L532.8 911.1L533.1 919.5L534 920.6L539.3 921.6L552.6 922.7L555.3 923.8L555.9 927L557.3 928L562.2 929.1L591.8 930.8L614.7 932.9L637.5 936.1L642.4 937.6L642.1 938.7L632.9 940.2L585 943.1L559.2 946.1L556.4 947.1L555.7 959.9L556.3 963.1L557.3 964.1L571.3 965.3L585 967.4L630.7 967.8L653.5 966.6L653.5 1107.4L128.3 1107.4L128.3 969.9L153.4 969.8L183.1 972.2L187.7 973.1L191.4 975.8L205.9 977.9L208.2 979L208.1 983.2L207.2 984.3L196.8 985.3L183.1 988.4L174 989L160.3 990.9L148.1 991.7L142.8 992.8L137.6 996L136.9 997L136.9 1010.8L147 1017.2L162.6 1018.2L167 1019.3L168.3 1020.4L168.3 1021.4L171.8 1022.5L187.7 1023.9L190 1024.6L191.1 1025.7L191.1 1027.8L192.3 1028.9L211.6 1031L213.6 1032L214.1 1035.2L215.1 1035.6L219.6 1036.6L233.3 1037.7L236.2 1038.4L236.9 1039.5L238.5 1040.5L242.5 1041.4L265.3 1039.7L271.3 1038.4L271.8 1028.9L273.3 1027.8L278.4 1026.7L292.2 1025.7L293.5 1024.6L294.6 1012.9L294.1 1011.9L288.1 1010.7L215.1 1004.7L213.4 1004.5L212 1003.4L212.2 1002.3L213.4 1001.3L233.3 999.3L290.4 994.8L297.1 993.8L298.1 992.8L299.6 992.5L314.6 990.7L316.9 989.6L316.8 987.5L314.1 986.4L299.6 984.9L296.4 984.3L292.3 982.2L288.8 981.1L276.7 980.1L273.2 979L272 977.9L270.1 973.7L270 972.6L271.1 969.4L272.3 967.3L274.3 966.2L292 964.1L295.4 962L298.9 960.9L336.1 957.9L340.3 956.7L340.3 955.6L342.9 954.2L360.3 952.4L362.7 951.4L362.7 941.8L361.5 939.7L356.6 939.1L311 939.1L299.6 938.2L294.5 936.5L290.8 931.2L288.1 930.2L279 929L276.7 928L276.7 925.9L279.1 924.9L288.1 923.8L290.5 922.7L292.7 916.4L294.5 914.2L297.3 913.1L304.1 912.1L356.6 908.4L381.8 906.1L384 905.7L386.2 904.7L386.6 902.6L383.7 901.5L365.8 899.4L363.5 896.8L358.9 895.5L340.3 893L299.6 889.9L295.9 888.8L292.3 886.6L274.5 884.5L272.8 883.5L271.1 877.1L273 869.7L276.7 867.8L281.7 866.5L282.7 865.4L282.9 864.4L282.9 861.2L279 859.3Z"/>
<path fill="#ffe600" stroke="#ffe600" stroke-width="0.6" fill-rule="evenodd" d="M653.5 843L653.5 873L626.1 871L601 867.9L581.6 866.5L567.4 863.3L564.3 862.2L564.1 861.2L571.1 858L580 855.9L584.8 853.7L598.7 852.8L607.8 850.8L626.1 849L644.4 845.7L647.7 844.2ZM302.2 864.4L311 863.5L327 867.1L353.9 869.7L359.2 870.7L365.8 873.9L367.1 875L368.6 878.2L379.5 881.1L383.3 881.3L390.5 883.5L397.6 886.6L402.3 889.7L413.7 888.2L448 885.5L454.8 887L470.8 888.3L477.7 889.5L493.7 891L504.2 894.1L507.1 896.2L510.7 900.4L518.8 904.3L522.4 906.8L526.2 911.1L526.8 919.5L527.9 920.8L531 921.7L543.1 922.7L548.4 923.8L549.2 924.9L549.4 927L550.4 928L555.3 929.6L562.2 930.8L585 931.6L607.8 933.8L631.3 937.6L630.7 938.7L580.4 942.3L553 945.9L550.7 947.1L549.3 959.9L550 963.1L550.7 964.1L578.1 967.9L630.7 968.6L653.5 967.5L653.5 1107.4L128.3 1107.4L128.3 1012.7L135.2 1014.7L140.7 1017.2L160 1019.3L162.6 1020.4L162.6 1021.4L164.9 1022.5L183.2 1024.6L185.3 1025.7L185.5 1027.8L186.3 1028.9L190.6 1029.9L205.9 1031.6L207.5 1032L208.2 1033.1L208.6 1035.2L211 1036.3L230 1038.4L232.6 1040.5L236.6 1041.6L244.8 1042L274.5 1039.5L277.3 1038.4L278.3 1028.9L281.3 1027.8L298.5 1025.7L299.6 1023.6L300.8 1011.9L295 1010.4L242.5 1005.5L242.5 1000.2L275.3 997L301.8 995.1L306.4 993.9L308.1 992.8L317.7 991.7L321.4 990.7L322.8 989.6L322.6 987.5L320.8 986.4L315.5 985.3L304.8 984.3L294.2 981.1L281 979L277.5 976.9L274.6 972.6L276.7 969.7L279.3 967.3L283.4 966.2L297 964.1L301.8 962.2L306.4 961.3L340.7 958.6L344.8 957.8L346.7 956.7L346.8 955.6L349.7 954.6L365.8 952.8L367.7 952.4L369.1 951.4L368.8 941.8L367.9 939.7L356.6 938.1L311 938.2L305.6 937.6L299.6 935.9L297.3 934.4L294.2 931.2L288.1 928L288.1 925.9L293.4 922.7L294.7 919.5L296.2 917.4L298.8 915.3L301.8 914L311 912.6L363.5 909L386.3 906.7L391.4 905.7L392.9 904.7L393.8 902.6L392.6 901.5L388.6 900.6L374.6 899.4L372.1 898.3L370.9 896.2L365.8 894.7L347.8 891.9L308.7 889.7L303.6 888.8L297.9 886.6L283.8 884.5L280.3 883.5L277 877.1L278.6 872.8L280.7 869.7ZM356.6 1055.4L356.6 1085.1L379.5 1085.1L379.5 1055.4ZM448 1049.8L437.9 1054.3L435.8 1057.5L432.8 1060.7L426 1064.9L425.2 1066L425.2 1073.4L425.2 1074.5L426.2 1075.6L434.3 1077.6L448 1080.1L457.8 1075.6L462 1070.3L469.4 1064.9L469.1 1063.9L464 1059.5L460.4 1054.3L454.8 1051.8ZM151.1 970.5L175.3 972.6L181.1 973.7L185 975.8L196.8 979L196.8 982.2L196.5 983.2L194.9 984.3L187.8 985.3L179.4 987.5L158 990.1L138.8 991.7L128.3 994.8L128.3 971Z"/>
<path fill="#ffdb00" stroke="#ffdb00" stroke-width="0.6" fill-rule="evenodd" d="M653.5 845.8L653.5 869.4L630.7 867.1L610.1 863.4L591.4 861.2L589.8 860.1L596.4 858.4L630.7 853.4L642.1 849.3ZM310.8 865.4L322.4 867.6L347.2 870.7L356.6 872.9L361 875L361.9 876L362.6 878.2L368.5 881.3L368.5 883.5L367.1 885.6L363.5 887.1L356.6 887.9L347.5 889.8L333.8 890.4L311 888.7L303.5 886.6L291.9 884.5L287.8 883.5L283.2 878.2L283.1 876L286.2 871.8L288.5 869.7ZM448 893L470.8 896.7L493.7 898.3L503.8 903.6L511.9 907.1L516.5 908.4L518.6 910L519.7 911.1L520.9 920.6L522.5 921.7L527.9 922.6L541.5 923.8L542.7 924.9L543.4 928L544.7 929.1L555.3 933.5L562.2 934.8L585 933.6L611.8 936.5L611.9 937.6L607.8 938.1L569 941.1L562.1 942.9L548.5 944.9L546.2 945.8L544.9 947.1L542.7 958.8L544.2 964.1L546.2 964.9L562.4 967.3L566.7 968.9L585 970.1L637.5 969.3L653.5 968.2L653.5 1107.4L139.7 1107.4L136.1 1087.2L134.2 1085.1L128.3 1082.6L128.3 1015L137.4 1017.9L153.4 1019.4L156.8 1020.4L156.8 1021.4L158 1022.5L160.3 1023.2L176.4 1024.6L179.5 1025.7L180.3 1028.9L182.6 1029.9L201.4 1032L202.6 1033.1L203.1 1035.2L204.6 1036.3L209.6 1037.4L223.8 1038.4L226.7 1040.5L231.1 1041.9L242.5 1042.9L274.4 1040.8L281.9 1039.5L283.2 1038.4L284.8 1028.9L288.1 1028L299.6 1027L304.7 1025.7L307.4 1012.9L307.6 1011.9L307 1010.8L304.1 1009.7L288.1 1007.6L288.1 1002.3L290.4 1001.3L311 1001.3L317 998.1L321.9 992.8L326.6 991.7L328.2 990.7L328.7 989.6L328.4 987.5L327.4 986.4L324.5 985.3L308.7 983.5L285.3 977.9L279.8 973.7L279.2 972.6L280.2 971.5L286.3 967.3L302.1 964.1L308.7 962.2L331.5 961.2L347.5 959.3L352.1 957.9L353.2 956.7L353.4 955.6L354.4 955.3L370.3 953.9L374.9 952.5L375.5 951.4L374.3 939.7L370.3 938.4L356.6 936.9L311 937.2L304.1 935.4L291.9 928L291.5 925.9L292.4 924.9L296.3 922.7L298.9 918.5L304.1 915.3L311 913.6L356.6 910.7L374.9 910.2L377.2 909.9L379.5 908.9L393.2 907.5L398.8 905.7L402.3 900.4L415.4 898.3L426.3 895.1ZM356.6 1022.3L353.1 1027.8L350.9 1033.1L347.5 1037.4L341.6 1042.7L331.3 1049L326.2 1054.3L326.3 1086.2L329.2 1091.5L333.8 1096.8L356.6 1100.3L379.5 1100.3L389.5 1086.2L394.5 1075.6L391.3 1052.2L389 1044.8L383.4 1033.1L379.5 1022ZM402.3 937.6L394.5 941.8L391 945L388.7 948.2L387.1 958.8L385.8 973.7L386.3 976.4L388.6 980L390.9 982L397.8 984.6L402.3 985.3L425.2 985.3L425.2 1001.3L428.6 1008.7L431.1 1016.1L434.3 1031.6L436.6 1035.2L438.9 1036.7L443.9 1038.4L431.7 1040.5L425.2 1043.5L418.3 1051.7L413.2 1060.7L411.3 1066L410.2 1075.6L425.2 1089.7L429.7 1090.1L448 1091.7L459.4 1090.4L466.3 1088.7L470.8 1086.4L477.7 1084.1L482.2 1081.9L486.4 1078.7L489.1 1075.6L491.9 1070.3L493.4 1064.9L488.1 1055.4L477.7 1039.9L471.2 1033.1L476.5 1022.5L479.9 1011.9L480.6 1001.3L477.8 996L471.6 986.4L467.6 982.2L459.4 975.8L448 969.2L429.7 969.6L425.2 970.5L418.7 947.1L416 944L413.3 941.8L409.2 939.7ZM140 971.5L151.1 971.2L174 973.9L188.1 979L188.8 980L187.5 982.2L185.4 983.5L174 986.8L151.1 989.9L135.1 990.7L128.3 992L128.3 972.7Z"/>
<path fill="#ffd000" stroke="#ffd000" stroke-width="0.6" fill-rule="evenodd" d="M653.5 850.7L653.5 862.5L640.2 860.1L637.7 859L643.7 856.9L646 853.7ZM311 867L340.7 871.7L350.5 873.9L353.8 875L356.6 877.1L356.5 881.3L354.4 883.4L349.8 886L342.9 887.7L333.8 888.8L311 887.2L299.1 884.5L294.8 883.5L291.9 881.3L288.9 878.2L288.5 877.1L289.6 875L291.4 872.8L294.3 870.7L296.9 869.7ZM356.6 913.6L366.6 915.3L370.3 916.6L374.2 919.5L377.6 923.8L379.4 927L379.2 928L377.2 931.7L374.9 932.7L371.5 933.3L311 935.9L304.2 933.3L295.6 928L294.8 925.9L295.6 924.9L299.2 922.7L301.2 919.5L302.5 918.5L306.4 916.4L311 914.9ZM493.7 937.6L516.5 937.5L537.2 947.1L538.5 948.2L533.6 950.3L530.2 953.5L528.2 957.8L528.8 959.9L534 965.2L539.6 969.4L562.2 979.3L607.8 980.6L620.1 984.3L630.7 990.1L640.7 984.3L653.5 980L653.5 1054.3L639.8 1051.7L630.7 1049L617 1047.6L612.4 1046.4L607.8 1044.3L587.3 1044.3L585 1043.7L585 1012.9L562.2 1012L549.1 1007.6L539.3 1001.6L516.5 1001.3L509.6 998.6L505.1 996L501.3 992.8L498.2 989.1L495.4 984.3L493.7 980ZM311 963.1L317.8 963.3L347.5 965.5L353.4 967.3L355.6 969.4L356.5 971.5L354.3 976.9L350.1 981.1L345.2 983.2L333.8 985.8L331.5 984.4L329.2 983.8L311 982.7L294.8 979L287.6 975.8L283.9 972.6L292.7 967.3ZM148.3 972.6L152.8 972.6L174 976.8L180.8 980L178.5 982L174 983.8L151.1 988.8L140.8 988.5L128.3 987.1L128.3 976.3ZM402.3 1002.3L408 1008.7L412.5 1015.1L416.2 1021.4L416.8 1024.6L416 1027.2L411.6 1034.2L402.3 1044.2L395.9 1034.2L391.5 1025.7L392.3 1020.4L395.3 1011.9L398.4 1006.6ZM151.1 1026.7L151.1 1106.3L153.4 1107.4L217.4 1107.4L219.6 1106.3L221.9 1107.4L263 1107.4L265.3 1106.3L265.3 1076.6L285.9 1076.6L288.1 1075.6L288.1 1044.8L285.9 1044L265.3 1043.2L256.2 1044.1L242.5 1044.4L231.1 1043.2L222.4 1041.6L219.6 1039.3L203.7 1038.1L199.7 1037.4L198.2 1036.3L196.8 1033.1L185.4 1032.6L176.3 1031.3L174.6 1029.9L174 1026.3L153.4 1026.3ZM402.3 1082.6L418.5 1097.8L425.2 1107.4L384 1107.4Z"/>
<path fill="#ffc400" stroke="#ffc400" stroke-width="0.6" fill-rule="evenodd" d="M311 868.6L341.1 873.9L344.2 875L347.5 877L348.8 879.2L348.7 880.3L347.1 882.4L342.9 884.9L333.8 887L311 885.6L299.6 882.6L293.7 878.2L293.2 877.1L293.6 876L298.9 871.8L304.1 870ZM333.8 916.1L356.6 917.2L363.1 920.6L366.8 923.8L364.5 927L357.4 930.2L347.5 931.9L327 933.6L311 934.4L306 932.3L299.3 928L298.2 925.9L298.8 924.9L302 922.7L304.4 919.5L311 916.4ZM311 964.5L327 966.2L340 969.4L344.6 971.5L344.1 972.6L340.7 975.2L331.5 979.4L324.7 980.6L311 981.3L297.7 977.9L291.5 974.7L288.6 972.6L299 967.3ZM151.1 976.2L170.7 980L168.5 981.1L151.1 985L137.4 982.6L129.8 980ZM653.5 995.5L653.5 1033.3L639.8 1029.6L621.5 1022.8L613.9 1018.2L608.6 1012.9L608.4 1010.8L610.1 1008.6L612.4 1006.6L617 1004.2ZM207.3 1045.8L219.6 1044.9L249.3 1050.9L258.5 1053.8L262.9 1056.5L265.1 1058.6L259.3 1063.9L251.6 1068.1L242.5 1071.3L237.9 1071.2L219.6 1070.5L208.2 1069.4L201.9 1068.1L199.1 1067L192.6 1062.8L186.2 1056.5L186.3 1054.3L190 1051.5L194.3 1049L199.1 1047.3ZM402.2 1096.8L408.8 1102.1L413.7 1107.4L393.2 1107.4Z"/>
<path fill="#ffb800" stroke="#ffb800" stroke-width="0.6" fill-rule="evenodd" d="M311 870.2L331.5 874L334.7 875L338.5 877.1L340.9 879.2L340.8 880.3L338.3 882.4L333.8 884.9L311 884L305.1 882.4L298.5 878.2L297.9 877.1L299.8 875L302.9 872.8ZM311 917.9L336.2 918.5L347.9 920.6L352.1 921.9L356 923.8L350.4 927L340.7 929.7L331.6 931.2L311 932.9L304.4 929.1L301.5 925.9L302 924.9L304.9 922.7L307.7 919.5ZM311 965.9L320.9 967.3L329.2 969.9L333 971.5L332.6 972.6L330 974.7L323.9 977.9L319.4 979L311 979.9L303.7 977.9L297.4 974.7L294.3 972.6L302.6 968.4ZM653.5 1005.3L653.5 1024.1L640 1018.2L636.5 1016.1L632.7 1012.9L632.3 1011.9L634.1 1010.8ZM219.6 1050.4L226.5 1051.9L242.5 1055.6L249.7 1058.6L242.5 1062.8L233.3 1064.3L219.6 1065.6L210.4 1062.8L206.4 1060.7L203.9 1058.6L204.4 1056.5L205.9 1054.9L210.5 1052.8Z"/>
<path fill="#ffac00" stroke="#ffac00" stroke-width="0.6" fill-rule="evenodd" d="M311 872L322.4 874.5L327 876L332.1 879.2L330.7 880.3L327 881L311 882.4L304.9 879.2L302.6 877.1L303.3 876ZM310.9 919.5L333.8 921.4L343.3 923.8L342.9 924.9L340.9 925.9L333.8 927.8L311 931.3L304.9 925.9L305.2 924.9ZM311 967.5L314.8 968.4L322.4 970.8L324.3 971.5L325.2 972.6L319.5 975.8L311 978.3L303.2 974.7L300.1 972.6ZM219.6 1055.8L230.3 1058.6L219.6 1060.9L214.7 1058.6Z"/>
<path fill="#ffa000" stroke="#ffa000" stroke-width="0.6" fill-rule="evenodd" d="M311 874.4L317 876L318.9 877.1L317.8 878.3L311 879.7L308.1 878.2L307.3 877.1ZM311 922.4L325.9 923.8L328.7 924.9L326.2 925.9L311 928.4L308.2 925.9L308.4 924.9ZM311 970.1L317.7 972.6L311 975.7L305.8 972.6Z"/></g><polygon points="174.5,875.4 197.8,877.1 204.5,885.4 222.7,895.4 207.8,892.1 194.5,888.7 169.6,885.4" fill="#4ce65a"/><polygon points="177.9,906 194.5,903.7 199.5,905.4 194.5,908 177.9,907.4" fill="#4ce65a"/>
<rect x="128.3" y="789.0" width="525.2" height="318.4" fill="none" stroke="#1a1a1a" stroke-width="2"/>
<path d="M242.5 789.0v7M242.5 1107.4v-7M356.6 789.0v7M356.6 1107.4v-7M470.8 789.0v7M470.8 1107.4v-7M585.0 789.0v7M585.0 1107.4v-7M128.3 895.1h7M653.5 895.1h-7M128.3 1001.3h7M653.5 1001.3h-7" stroke="#1a1a1a" stroke-width="1.8" fill="none"/>
<line x1="356.6" y1="789.0" x2="356.6" y2="1107.4" stroke="#4a4040" stroke-width="2.7" stroke-dasharray="9.5 11.3" stroke-dashoffset="4.7"/>
<line x1="562.2" y1="789.0" x2="562.2" y2="1107.4" stroke="#4a4040" stroke-width="2.7" stroke-dasharray="9.5 11.3" stroke-dashoffset="4.7"/>
<text transform="translate(122,803.2) scale(0.915,1)" text-anchor="end" font-size="43.3" font-family="Liberation Serif" font-weight="bold">0</text>
<text transform="translate(122,909.3) scale(0.915,1)" text-anchor="end" font-size="43.3" font-family="Liberation Serif" font-weight="bold">-10</text>
<text transform="translate(122,1015.5) scale(0.915,1)" text-anchor="end" font-size="43.3" font-family="Liberation Serif" font-weight="bold">-20</text>
<text transform="translate(122,1121.6) scale(0.915,1)" text-anchor="end" font-size="43.3" font-family="Liberation Serif" font-weight="bold">-30</text>
<polyline points="128.3,1011.9 151.1,1017.2 174.0,1022.5 196.8,1032.0 219.6,1040.5 242.5,1043.7 265.3,1042.7 288.1,1040.5 311.0,1031.0 333.8,996.0 356.6,958.8 379.5,920.6 402.3,901.5 425.2,890.9 448.0,887.7 470.8,890.9 493.7,895.1 516.5,907.9 539.3,924.9 562.2,937.6 585.0,956.7 607.8,977.9 630.7,997.0 653.5,1008.7" fill="none" stroke="#0a0af0" stroke-width="5" stroke-linejoin="round"/>
<defs><linearGradient id="cbc" x1="0" y1="0" x2="0" y2="1"><stop offset="0" stop-color="#000"/><stop offset="0.014" stop-color="#000"/><stop offset="0.016" stop-color="#ff0000"/><stop offset="0.113" stop-color="#ff3200"/><stop offset="0.117" stop-color="#ff7a00"/><stop offset="0.257" stop-color="#ffff00"/><stop offset="0.261" stop-color="#c9c9c9"/><stop offset="0.756" stop-color="#c9c9c9"/><stop offset="0.759" stop-color="#48f048"/><stop offset="0.781" stop-color="#22dd33"/><stop offset="0.784" stop-color="#0098ff"/><stop offset="0.99" stop-color="#0000f0"/><stop offset="1" stop-color="#0000e0"/></linearGradient></defs>
<rect x="678.7" y="789.0" width="26.5" height="318.4" fill="url(#cbc)"/>
<rect x="678.7" y="789.0" width="26.5" height="318.4" fill="none" stroke="#1a1a1a" stroke-width="2.2"/>
<text transform="translate(722.3,802.3) scale(0.945,1)" font-size="43.3" font-family="Liberation Serif" font-weight="bold">90</text>
<path d="M705.2 868.6h-3.5" stroke="#1a1a1a" stroke-width="1.5"/>
<text transform="translate(722.3,881.9) scale(0.945,1)" font-size="43.3" font-family="Liberation Serif" font-weight="bold">45</text>
<path d="M705.2 948.2h-3.5" stroke="#1a1a1a" stroke-width="1.5"/>
<text transform="translate(722.3,961.5) scale(0.945,1)" font-size="43.3" font-family="Liberation Serif" font-weight="bold">0</text>
<path d="M705.2 1027.8h-3.5" stroke="#1a1a1a" stroke-width="1.5"/>
<text transform="translate(722.3,1041.1) scale(0.945,1)" font-size="43.3" font-family="Liberation Serif" font-weight="bold">-45</text>
<text transform="translate(722.3,1120.7) scale(0.945,1)" font-size="43.3" font-family="Liberation Serif" font-weight="bold">-90</text>
<text x="123.6" y="779.0" font-size="42" font-family="Liberation Serif" font-weight="bold">(c) Turner angle</text>
<g clip-path="url(#clipd)"><rect x="128.3" y="1189.1" width="525.2" height="286.7" fill="#dadada"/>
<rect x="128.3" y="1189.1" width="525.2" height="286.7" fill="#d2e2ea"/>
<rect x="128.3" y="1189.1" width="525.2" height="286.7" fill="#c4e9fb"/>
<path fill="#addff7" stroke="#addff7" stroke-width="0.6" fill-rule="evenodd" d="M128.3 1189.1L653.5 1189.1L653.5 1475.8L128.3 1475.8ZM174 1265.5L169.1 1272L162.1 1278.3L163.6 1283.6L171.7 1292.9L174 1296.5L176.7 1292.1L183.6 1283.6L186.2 1273L185 1269.8L183.1 1267.7L178.5 1265.8ZM256.2 1268.4L253.9 1270.2L252.3 1274.1L250.9 1284.7L240.5 1297.4L238.6 1300.6L238.7 1303.8L240.2 1312.3L240.9 1313.4L242.5 1314.9L265.3 1316.4L288.1 1314.8L292.4 1313.4L294 1312.3L305.1 1300.6L304.1 1295.3L303.4 1294.3L299.6 1290L295 1286.1L288.1 1281.7L277.7 1276.2L265.3 1267.2Z"/>
<path fill="#94d0f1" stroke="#94d0f1" stroke-width="0.6" fill-rule="evenodd" d="M128.3 1189.1L653.5 1189.1L653.5 1475.8L128.3 1475.8ZM192.2 1256.9L178.5 1258.5L167.1 1260.8L158.3 1263.5L145.2 1268.8L141.4 1270.9L140.1 1274.1L139.5 1278.3L145.8 1285.8L151.5 1291.1L158 1293.6L164.4 1297.4L174 1301.9L183 1298.5L190 1293.4L196.8 1289.6L205.9 1292.8L210.8 1296.4L212.6 1303.8L214.9 1308.1L220.3 1315.5L242.5 1319.7L267.6 1320.4L288.1 1321.5L311 1319.7L312.6 1312.3L314 1300.6L311 1270.3L297.8 1264.5L292.9 1261.3L289.1 1258.2L288.1 1257.7L279 1259.6L265.3 1260.8L242.5 1258.7L201.4 1256.7Z"/>
<path fill="#7bbae7" stroke="#7bbae7" stroke-width="0.6" fill-rule="evenodd" d="M128.3 1189.1L653.5 1189.1L653.5 1242.4L645.6 1247.5L641.6 1251.8L639.1 1256L638.7 1262.4L638.8 1263.5L647.3 1274.1L651.1 1280.5L653.5 1286.2L653.5 1475.8L128.3 1475.8L128.3 1286.5L174 1306.8L185.4 1306L190.7 1304.9L194.5 1302.4L196.8 1297.6L199.9 1308.1L205.1 1311.2L210.3 1315.5L219.6 1320.3L242.5 1324L265.3 1324L288.1 1324.9L311 1323.1L315.5 1321.2L317.1 1319.7L317.8 1312.3L317.7 1300.6L313.8 1268.8L311 1260.3L301.2 1256L288.1 1253.5L265.3 1255L242.5 1254L219.6 1252L174 1253.5L151.1 1257.3L128.3 1257.5Z"/>
<path fill="#65a6de" stroke="#65a6de" stroke-width="0.6" fill-rule="evenodd" d="M128.3 1189.1L653.5 1189.1L653.5 1238L630.7 1238.2L620.7 1246.5L619.7 1247.5L619.6 1248.6L621.8 1259.2L623.7 1263.5L627.6 1269.8L630.7 1277L636.9 1281.5L642 1286.8L653.5 1291L653.5 1475.8L128.3 1475.8L128.3 1292.7L150.8 1301.7L158 1306L167.1 1309.7L174 1311.8L196.8 1313.3L210.5 1320.8L219.6 1325.1L228.8 1326.4L242.5 1328L288.1 1327.9L311 1325.9L314.8 1325L318.1 1324L321.8 1321.9L322.8 1320.8L323.3 1318.7L321.5 1300.6L317.2 1269.8L314.3 1260.3L311 1252.3L301.8 1251.1L288.1 1250.5L265.3 1251.8L219.6 1248.3L174 1248.9L151.1 1251.8L128.3 1250.2Z"/>
<path fill="#4f92d2" stroke="#4f92d2" stroke-width="0.6" fill-rule="evenodd" d="M128.3 1189.1L653.5 1189.1L653.5 1234.8L630.7 1232.9L607.8 1240.6L600.1 1245.4L599.9 1246.5L605.5 1253.5L608 1259.2L612.5 1262.4L619.6 1269.8L630.7 1287.2L639.8 1291.4L653.5 1294.4L653.5 1475.8L128.3 1475.8L128.3 1298.5L139.7 1302.8L145.4 1305.9L151.1 1310.1L154.3 1311.2L174 1316.6L196.8 1318.7L205.9 1323.8L219.6 1330.3L242.5 1332L265.3 1331.9L288.1 1330.9L311 1328.8L321.4 1327.2L327 1325.1L328.5 1324L329.5 1319.7L328.4 1313.4L325.8 1303.8L320.2 1268.8L315.7 1255L311 1244.8L297.3 1247L265.3 1248.6L219.6 1245L174 1244.6L151.1 1246.5L139.7 1245.4L128.3 1243.5Z"/>
<path fill="#4692ab" stroke="#4692ab" stroke-width="0.6" fill-rule="evenodd" d="M128.3 1189.1L653.5 1189.1L653.5 1231.6L630.7 1229.5L595.6 1239L585 1243L583.4 1245.4L585 1247.5L591.8 1250.7L599.5 1256L607.8 1266.6L615.4 1274.1L625.4 1287.9L630.7 1294.2L653.5 1299.6L653.5 1475.8L128.3 1475.8L128.3 1303.5L137.4 1307.7L151.1 1316.2L174 1322.2L196.8 1324.7L208.2 1330.5L219.6 1335.4L242.5 1336.7L288.1 1334.6L311 1331.8L324.7 1332.1L342.9 1334L349.8 1335.3L354.1 1337.8L356.6 1342.3L358.6 1331.4L356.6 1321.2L342.9 1318.2L338.4 1316.5L333.8 1313.6L329.8 1303.8L326.6 1288.9L323.6 1269.8L321.3 1261.3L316.1 1246.5L313.6 1243.3L311 1241.9L288.1 1245.1L265.3 1245.8L219.6 1242.2L196.8 1242.6L174 1241.9L151.1 1242.9L128.3 1239.4Z"/>
<path fill="#479c84" stroke="#479c84" stroke-width="0.6" fill-rule="evenodd" d="M128.3 1189.1L653.5 1189.1L653.5 1228L630.7 1226.3L607.8 1232.7L594.8 1234.8L585 1237L580.5 1241.2L578.4 1244.4L578.3 1245.4L583.9 1251.8L592.2 1256L600.3 1263.5L604.8 1268.8L607.8 1273.6L614 1280.5L624.1 1293.2L630.7 1299.6L653.5 1306.1L653.5 1475.8L128.3 1475.8L128.3 1308.4L135.7 1312.3L144.3 1318.5L151.1 1322.2L174 1327.9L196.8 1330.7L212.3 1337.8L219.6 1340.5L242.5 1341.5L288.1 1338.3L311 1334.8L324.7 1336.3L336.1 1338.3L341.1 1339.9L347.4 1343.1L356.6 1346.8L365.8 1344.4L367.3 1343.1L367.6 1342L365.6 1330.4L363.5 1321.9L359.8 1316.6L356.6 1313.4L344.2 1309.1L333.8 1303.8L330.3 1290L326.8 1269.8L324.4 1260.3L319.7 1245.4L316.6 1242.2L311 1239.4L288.1 1242.6L265.3 1242.9L219.6 1239.6L196.8 1240.3L174 1239.4L151.1 1239.4L128.3 1235.5Z"/>
<path fill="#46a963" stroke="#46a963" stroke-width="0.6" fill-rule="evenodd" d="M128.3 1189.1L653.5 1189.1L653.5 1224.4L630.7 1223.1L619.2 1225.8L607.8 1229.4L585 1232.6L579.7 1234.8L576.5 1236.9L574.5 1240.1L573 1244.4L573.7 1246.5L578.3 1251.8L588.2 1258.2L595 1263.5L599.4 1267.7L602 1270.9L607.8 1280.5L619.3 1294.3L626.1 1300.9L630.7 1304.9L642.3 1309.1L653.5 1315.1L653.5 1475.8L128.3 1475.8L128.3 1313.7L133.6 1318.7L139.6 1322.9L153.4 1329.3L164.8 1332.3L183.1 1335.3L196.8 1336.8L208.2 1343L219.6 1347.4L242.5 1346.4L265.3 1343.8L288.1 1342.2L311 1338L333.8 1341.9L356.6 1350.6L365.8 1351.5L369.6 1352.6L372.2 1354.8L376.5 1361.1L379.5 1370.2L402.3 1370.6L407.5 1366.4L411.1 1360.1L410.7 1358L402.3 1344.4L379.5 1343.8L376.1 1338.8L374.1 1334.6L369.7 1320.8L365.5 1314.4L362.5 1311.2L356.6 1307L349 1303.8L343.8 1300.6L333.9 1290L329.5 1267.7L324.2 1246.5L322.6 1243.3L319 1240.1L311 1236.7L288.1 1239.8L265.3 1239.9L219.6 1236.7L196.8 1237.8L151.1 1235.6L128.3 1231.5Z"/>
<path fill="#55b946" stroke="#55b946" stroke-width="0.6" fill-rule="evenodd" d="M128.3 1189.1L653.5 1189.1L653.5 1220.8L630.7 1219.9L618.6 1222.1L607.8 1225.2L585 1227.3L576.1 1230.6L569.2 1234.8L567.8 1236.9L567.6 1243.3L568.6 1246.5L573.7 1252.8L589.6 1263.3L597 1269.8L607.8 1287.4L619.6 1300.6L630.7 1311.4L642.1 1318.6L653.5 1327.1L653.5 1475.8L128.3 1475.8L128.3 1324.5L140.1 1332.5L151.1 1341L174 1345.2L196.8 1346.8L208.2 1351.4L219.6 1354.8L242.5 1353.4L265.3 1350.3L288.1 1348.1L311 1342.8L333.8 1345.2L345.1 1349.5L365.8 1359.7L371 1364.3L374.7 1370.7L379.5 1377.1L393.2 1379.9L402.3 1383.5L416.5 1385.6L420.6 1387L425.2 1390L434.3 1388L448 1386.8L450.2 1374.9L449.3 1368.6L448 1364.1L434.3 1362.8L425.2 1360.4L413.8 1344.2L409.7 1341L402.3 1337.3L388.6 1334.2L383.8 1332.5L379.5 1330.2L375.5 1318.7L371.2 1311.2L365.8 1306.2L355.4 1299.6L349.5 1294.3L343.5 1287.9L336.1 1277.4L333.8 1273.6L327.6 1244.4L324.2 1239L318 1234.8L311 1232.3L288.1 1235.2L265.3 1235.2L219.6 1231.8L196.8 1232L151.1 1229.5L128.3 1226.1Z"/>
<path fill="#82c648" stroke="#82c648" stroke-width="0.6" fill-rule="evenodd" d="M128.3 1189.1L653.5 1189.1L653.5 1217.2L630.7 1216.6L617 1218L607.8 1219.8L585 1219.2L573.6 1221.7L569 1223.8L562.2 1229.5L559.9 1233.3L559.1 1235.9L562.8 1245.4L568 1252.8L575.9 1259.3L586 1264.5L593.7 1270.9L607 1293.2L613.5 1300.6L624.6 1311.2L630.7 1322.2L635.2 1328L642.5 1333.5L653.5 1338.2L653.5 1475.8L128.3 1475.8L128.3 1335.7L139.7 1345.4L151.1 1353.6L174 1356.9L196.8 1356.9L219.6 1362.2L242.5 1360.6L265.3 1356.9L288.1 1354.2L299.6 1350.6L311 1347.8L333.8 1348.4L347.5 1355.1L364 1364.3L367.3 1367.5L374.1 1376L379.5 1383.9L387.5 1386.6L393.2 1389.4L398.4 1393L402.3 1397.1L413.7 1399.7L425.2 1403.4L448 1400.3L453.3 1394.1L457.6 1387.7L460.4 1379.2L465.4 1367.5L465.3 1366.4L461.7 1362.2L452.4 1353.7L448 1350.4L425.2 1343.6L421.5 1338.8L417.4 1335.7L411.5 1332.8L402.3 1330.1L395.9 1326.1L383.8 1315.5L373.9 1303.8L355.6 1288.9L342.2 1273L338.1 1266.7L335 1260.3L333.8 1256.9L331.5 1242.2L331 1235.9L331.9 1229.5L328 1228.4L311 1227.7L288.1 1230.2L265.3 1230.2L219.6 1226.7L196.8 1226L151.1 1223.1L128.3 1220.6Z"/>
<path fill="#b0d24e" stroke="#b0d24e" stroke-width="0.6" fill-rule="evenodd" d="M128.3 1189.1L524.1 1189.1L526.3 1197.6L528.2 1201.9L539.3 1204.5L540.2 1205.1L542.9 1209.3L545.3 1214.6L549.3 1227.4L550.8 1235.9L555.6 1245.4L564.4 1255.5L569.8 1260.3L577.1 1264.5L585 1267.2L589.5 1270.9L601 1291.7L604.8 1297.4L607.3 1300.6L619.5 1312.3L621.9 1317.6L622.9 1322.9L619.7 1339.9L622.9 1346.3L627.1 1350.5L636.3 1355.8L644.4 1358.9L653.5 1361.1L653.5 1475.8L128.3 1475.8L128.3 1350.4L137.7 1355.8L151.1 1362.2L174 1365.4L196.8 1365.4L219.6 1368.8L242.5 1367.2L288.1 1359.8L299.2 1355.8L311 1352.4L333.8 1352.6L356.6 1364.1L360.3 1366.4L370.3 1377.1L379.5 1390.3L385.8 1393L390.9 1396L396.8 1400.4L402.3 1405.7L425.2 1411.3L448 1410.4L448.7 1410L455.9 1404.7L460.2 1400.4L466 1390.9L470.8 1380.3L493.7 1378.6L502.8 1376.7L509.6 1374.6L515.9 1371.8L520.5 1368.6L522.1 1366.4L519 1354.8L516.5 1348.2L500.5 1346.5L495.9 1345.3L493.7 1344L473.1 1344L470.8 1343.1L470.7 1341L469.3 1339.9L448 1330.5L435.1 1327.2L426.3 1324L408.6 1318.7L402.3 1316.6L398.2 1314.4L387 1305.9L378.9 1296.4L365.8 1285.8L359.7 1281.5L350.9 1273L344.6 1265.6L339.6 1257.1L338.1 1250.7L337.2 1243.3L341.1 1234.8L343.4 1231.6L347.5 1227.7L352.1 1225L361.2 1223.2L404 1221L410.2 1219.9L414.2 1217.8L415.3 1216.8L415.4 1215.7L413.7 1213.9L409.2 1211.5L402.3 1209.1L390.9 1210.7L384 1213L382 1214.6L380 1217.8L379.5 1217.9L376 1215.7L370.3 1214.4L356.6 1213.4L347.5 1214.2L339.7 1215.7L337.2 1216.8L334.7 1218.9L330.9 1219.9L311 1222.8L288.1 1224.9L265.3 1225L253.9 1223.6L203.3 1219.9L190 1218.4L174 1217.9L167.1 1216.9L144.3 1215.4L128.3 1215ZM607.8 1189.1L653.5 1189.1L653.5 1213L648.9 1211.7L644.4 1211.2L627.4 1210.4L622.6 1208.3L617.7 1205.1L613.6 1200.8L610.3 1195.5Z"/>
<path fill="#e3e25e" stroke="#e3e25e" stroke-width="0.6" fill-rule="evenodd" d="M234.9 1189.1L317.5 1189.1L311 1209.7L288.1 1209.9L265.3 1210.8L242.5 1210.7L219.6 1209.6L213.8 1204L213.4 1203L214.1 1200.8L216.5 1197.6L219 1195.5L226.5 1194L231.1 1192.5L233.3 1191ZM420.7 1190.2L425.2 1189.6L448 1189.6L454.8 1190.7L457.8 1192.3L457 1200.8L456.6 1201.9L454.8 1202.5L448 1203.8L425.2 1203.8L421.3 1203L418.2 1201.9L416.6 1192.3L417.6 1191.3ZM493.7 1207.2L499.6 1208.3L501.3 1209.3L501.3 1217.8L500 1218.9L493.7 1220L487.1 1218.9L485.7 1217.8L485.2 1209.3L486.9 1208.3ZM450.3 1224.1L493.7 1228.1L516.5 1234.7L530.2 1233.6L539.3 1231.4L548 1245.4L551.2 1249.7L556 1255L564.4 1262.5L571.3 1266.7L585.3 1270.9L589.1 1277.3L600.7 1300.6L603.7 1303.8L607.8 1306.5L613.6 1312.3L615.7 1317.6L615.6 1320.8L614.7 1323.3L611.8 1327.2L607.8 1330.6L599.3 1333.5L592.4 1337.8L585 1346L562.2 1347.3L550.7 1343.3L536.1 1336.7L493.7 1323.6L470.8 1322L425.2 1311.9L402.3 1308.6L395.5 1304L389.2 1298.5L384 1292.4L379.5 1285.5L369.1 1280.5L356 1269.8L349 1262.4L344.9 1256L343.5 1249.7L343.6 1244.4L344.2 1242.2L347.5 1237.7L351.4 1233.7L355.8 1230.6L358.3 1229.5L368.1 1226.9L379.5 1225.2L402.3 1225L425.2 1225.5ZM311 1356.9L333.8 1356.9L345.2 1363.1L356.6 1368.1L365.7 1377.1L374.2 1389.8L379.5 1395.6L388.1 1400.4L402.3 1412.1L425.2 1419L448 1417.4L460 1412.1L464.6 1408.9L470.8 1403.4L475.4 1401.3L482.2 1399.2L493.7 1397.1L504.3 1393L516.5 1390.3L527.9 1383L539.3 1377.1L562.2 1371.6L607.8 1368.5L630.7 1370.1L653.5 1373.8L653.5 1475.8L128.3 1475.8L128.3 1360.6L139.7 1366.1L151.1 1370.7L174 1373.9L196.8 1373.9L219.6 1375.5L242.5 1373.9L265.3 1370.6L288.1 1365.4Z"/>
<path fill="#fbd554" stroke="#fbd554" stroke-width="0.6" fill-rule="evenodd" d="M448 1226.9L493.7 1232.7L516.5 1238.7L530.2 1240.8L539.3 1243.6L547.5 1255L562.2 1269.1L566.3 1272L570.9 1274.1L585 1277.4L589.7 1287.9L593.4 1297.4L594.4 1301.7L595.9 1304.9L598.6 1308.1L601 1310L603.4 1311.2L607.8 1312.5L609.4 1317.6L608.4 1320.8L607.8 1321.7L601.6 1320.8L585 1316.8L575.1 1324L562.2 1330.4L550.7 1325.9L539.3 1320.3L505.8 1313.4L493.7 1310.3L470.8 1310.3L425.2 1303.8L402.3 1301.7L393.2 1294.2L385.5 1284.7L356.6 1263.5L351.1 1257.1L349.1 1250.7L350.3 1243.3L356.6 1236.9L379.5 1228.7L425.2 1228.5ZM333.8 1361.9L348.9 1369.6L356.6 1372.6L361.2 1377.1L369.3 1389.8L374.4 1396.2L401.6 1418.5L425.2 1425.6L448 1424L469.2 1416.3L482.2 1410.7L516.5 1400.4L539.3 1387.1L562.2 1383.9L585 1382.4L607.8 1378.7L630.7 1380.3L653.5 1380.5L653.5 1475.8L128.3 1475.8L128.3 1370.6L151.1 1378.1L174 1381.3L196.8 1382.1L219.6 1383.7L242.5 1381.3L265.3 1376.5L288.1 1371.2L311 1362.7Z"/>
<path fill="#f6b44e" stroke="#f6b44e" stroke-width="0.6" fill-rule="evenodd" d="M448 1230.6L470.8 1234.3L493.7 1237L507.3 1241.2L516.5 1245.2L527.2 1248.6L533.8 1251.8L539.3 1255.5L550.3 1267.7L559.5 1283.6L561.9 1286.8L585 1287.6L587.7 1298.5L586.8 1304.9L585.3 1309.1L571.3 1312.9L562.2 1316.6L550.7 1311.8L539.3 1306L516.5 1305.5L493.7 1300.1L470.8 1301.7L425.2 1296.9L402.3 1295.3L396.4 1290L392.2 1284.7L381.4 1275.1L357 1257.1L354.6 1250.7L355.5 1246.5L357 1243.3L367 1239L379.5 1234.8ZM333.8 1367.2L338.4 1370.6L342.9 1373L348.1 1374.9L356.6 1377.1L368 1395.1L374.9 1402.9L393.8 1419.5L402.3 1425.9L425.2 1432.4L448 1430.8L470.8 1422.2L516.5 1408.9L539.3 1396.2L562.2 1392.5L585 1394L607.8 1388.7L653.5 1392.3L653.5 1475.8L128.3 1475.8L128.3 1378.9L151.1 1385.6L160.3 1387.2L174 1388.9L219.6 1392.1L242.5 1388.8L265.3 1382.5L281.3 1379.3L299.8 1373.9L311 1368.7Z"/>
<path fill="#f5953d" stroke="#f5953d" stroke-width="0.6" fill-rule="evenodd" d="M448 1234.3L470.8 1238.5L493.7 1241.7L506.3 1246.5L525.6 1256.8L539.3 1266.7L546.1 1279.4L546 1286.8L547 1293.2L548.5 1293.9L563 1294.3L570.9 1296.4L572.3 1297.4L572.2 1298.5L562.2 1304.8L549.8 1298.5L547.3 1296.4L546.2 1294.5L544.3 1294.3L539.3 1294.2L516.5 1296.9L493.7 1290.1L470.8 1293.7L425.2 1289.9L402.3 1288.8L398 1283.6L387.5 1273L369.4 1259.2L366.5 1256L364.5 1251.8L364.6 1249.7L366.9 1246.5L372 1243.3L379.5 1240.2ZM333.8 1377.1L342.9 1381L356.6 1384.1L363.5 1396.9L369.9 1405.7L394.1 1428L402.3 1433.9L425.2 1441.3L448 1440L470.8 1429.2L486.5 1425.9L516.5 1417.4L527.9 1411.7L539.8 1404.7L562.2 1401L585 1402.6L597.2 1400.4L607.8 1397.9L630.7 1401.5L653.5 1401L653.5 1475.8L128.3 1475.8L128.3 1387.3L139.7 1392.8L151.1 1397.3L174 1400.5L219.6 1403.7L237.9 1400.1L253.9 1396.1L265.3 1392.1L288.1 1387.2L300.5 1383.4L311 1378.8Z"/>
<path fill="#f5782b" stroke="#f5782b" stroke-width="0.6" fill-rule="evenodd" d="M448 1238L470.8 1243L493.7 1246.5L505.3 1252.8L516.1 1260.3L526.2 1274.1L526.5 1279.4L521 1284.7L516.5 1288.1L511.9 1285.3L507.4 1283.6L493.7 1281.5L470.8 1285.2L425.2 1281.5L402.3 1280.4L397.8 1274.7L390.1 1266.7L386.3 1263.8L379.5 1259.9L375.6 1252.8L376.3 1250.7L379.5 1246.5L418.3 1240.9ZM333.8 1391.1L342.9 1393L356.6 1394.1L360.9 1403.6L366.9 1412.1L372.6 1418.5L379.5 1423.9L384.9 1430.1L394.7 1438.6L402.3 1444L425.2 1450.4L448 1449.3L470.8 1437.6L493.7 1433.9L505.1 1430.7L516.5 1427L539.3 1415.3L562.2 1410L585 1413.2L607.8 1410L630.7 1411.7L653.5 1411.7L653.5 1475.8L128.3 1475.8L128.3 1402.3L151.1 1414.2L174 1415.3L196.8 1417.4L219.6 1417.4L242.5 1415.7L265.3 1407.3L276.7 1404.3L288.1 1400.6L301.8 1397.7L311 1394.1Z"/>
<path fill="#ea5f27" stroke="#ea5f27" stroke-width="0.6" fill-rule="evenodd" d="M448 1241.7L489.2 1251.8L494.3 1253.9L503.3 1261.3L504.1 1262.4L503.8 1263.5L500.5 1268.3L495.9 1271.1L491.4 1272.3L470.8 1275.1L425.3 1272L402.3 1269.6L399.3 1264.5L394.6 1259.2L395.6 1256L397.8 1253.1L401.5 1250.7L406.8 1248.6L422.9 1244.7ZM356.6 1410.7L360.9 1419.5L367.7 1428L372.6 1432.7L379.5 1437.7L384 1442.9L388.6 1446.9L394 1450.3L402.3 1454.1L425.2 1462L448 1458.9L459.5 1453.5L470.8 1447.1L493.7 1445.5L507.4 1441.5L516.5 1438.6L527.9 1432.3L539.3 1425L562.2 1420.1L585 1424.9L607.8 1423.8L630.7 1425.4L653.5 1425.4L653.5 1475.8L128.3 1475.8L128.3 1417.4L151.1 1430.7L174 1432.2L196.8 1432.3L219.6 1430.7L288.1 1420.4L333.8 1420.4Z"/>
<path fill="#e24926" stroke="#e24926" stroke-width="0.6" fill-rule="evenodd" d="M448.6 1246.5L452.3 1248.6L457.1 1250.1L470.8 1252.3L481 1259.2L482.3 1262.4L470.8 1266.5L448 1264.9L425.2 1261.8L418.9 1259.2L416.4 1256L416.1 1255L417.3 1253.9L425.2 1249L438.9 1247.9ZM562.2 1432.3L585 1438.6L607.8 1438.6L630.7 1440.8L653.5 1440.8L653.5 1475.8L128.3 1475.8L128.3 1434.1L151.1 1447.1L196.8 1447.1L265.3 1437.6L288.1 1433.9L311 1435.5L333.8 1440.7L356.6 1437.5L379.5 1457.2L384 1460L395.6 1465.2L425.2 1474.3L448 1470.5L459.4 1465.1L470.8 1458.8L493.7 1457.3L516.5 1450.9L539.3 1438.6Z"/>
<path fill="#d9302a" stroke="#d9302a" stroke-width="0.6" fill-rule="evenodd" d="M288.1 1447.1L311 1450.8L333.8 1457.2L356.6 1457.2L377.2 1475.8L128.3 1475.8L128.3 1451L137.4 1458.1L148.3 1463.1L151.1 1464L174 1467.3L196.8 1464.1L242.5 1454ZM562.2 1446.1L585 1452.4L607.8 1452.5L630.7 1456.2L653.5 1457.8L653.5 1475.8L465.1 1475.8L470.8 1472.7L493.7 1470.5L516.5 1464.1L539.3 1452.4Z"/>
<path fill="#d01d28" stroke="#d01d28" stroke-width="0.6" fill-rule="evenodd" d="M288.1 1461L311 1465.8L327 1470.9L349 1475.8L215.1 1475.8L242.5 1467.3ZM562.2 1463.1L578.1 1465.7L607.8 1468.4L630.7 1471.6L645.9 1475.8L523 1475.8L531.1 1471.6L539.3 1466.4Z"/></g>
<rect x="128.3" y="1157.3" width="525.2" height="318.5" fill="none" stroke="#1a1a1a" stroke-width="2"/>
<path d="M242.5 1157.3v7M242.5 1475.8v-7M356.6 1157.3v7M356.6 1475.8v-7M470.8 1157.3v7M470.8 1475.8v-7M585.0 1157.3v7M585.0 1475.8v-7M128.3 1263.5h7M653.5 1263.5h-7M128.3 1369.6h7M653.5 1369.6h-7" stroke="#1a1a1a" stroke-width="1.8" fill="none"/>
<line x1="356.6" y1="1157.3" x2="356.6" y2="1475.8" stroke="#4a4040" stroke-width="2.7" stroke-dasharray="9.5 11.3" stroke-dashoffset="4.7"/>
<line x1="562.2" y1="1157.3" x2="562.2" y2="1475.8" stroke="#4a4040" stroke-width="2.7" stroke-dasharray="9.5 11.3" stroke-dashoffset="4.7"/>
<text transform="translate(122,1171.5) scale(0.915,1)" text-anchor="end" font-size="43.3" font-family="Liberation Serif" font-weight="bold">0</text>
<text transform="translate(122,1277.7) scale(0.915,1)" text-anchor="end" font-size="43.3" font-family="Liberation Serif" font-weight="bold">-10</text>
<text transform="translate(122,1383.8) scale(0.915,1)" text-anchor="end" font-size="43.3" font-family="Liberation Serif" font-weight="bold">-20</text>
<text transform="translate(122,1490.0) scale(0.915,1)" text-anchor="end" font-size="43.3" font-family="Liberation Serif" font-weight="bold">-30</text>
<polyline points="128.3,1380.2 151.1,1385.6 174.0,1390.9 196.8,1400.4 219.6,1408.9 242.5,1412.1 265.3,1411.0 288.1,1408.9 311.0,1399.4 333.8,1364.3 356.6,1327.2 379.5,1288.9 402.3,1269.8 425.2,1259.2 448.0,1256.0 470.8,1259.2 493.7,1263.5 516.5,1276.2 539.3,1293.2 562.2,1305.9 585.0,1325.0 607.8,1346.3 630.7,1365.4 653.5,1377.1" fill="none" stroke="#0a0af0" stroke-width="5" stroke-linejoin="round"/>
<rect x="678.7" y="1463.55" width="26.5" height="12.75" fill="#dadada"/>
<rect x="678.7" y="1451.30" width="26.5" height="12.75" fill="#d2e2ea"/>
<rect x="678.7" y="1439.05" width="26.5" height="12.75" fill="#c4e9fb"/>
<rect x="678.7" y="1426.80" width="26.5" height="12.75" fill="#addff7"/>
<rect x="678.7" y="1414.55" width="26.5" height="12.75" fill="#94d0f1"/>
<rect x="678.7" y="1402.30" width="26.5" height="12.75" fill="#7bbae7"/>
<rect x="678.7" y="1390.05" width="26.5" height="12.75" fill="#65a6de"/>
<rect x="678.7" y="1377.80" width="26.5" height="12.75" fill="#4f92d2"/>
<rect x="678.7" y="1365.55" width="26.5" height="12.75" fill="#4692ab"/>
<rect x="678.7" y="1353.30" width="26.5" height="12.75" fill="#479c84"/>
<rect x="678.7" y="1341.05" width="26.5" height="12.75" fill="#46a963"/>
<rect x="678.7" y="1328.80" width="26.5" height="12.75" fill="#55b946"/>
<rect x="678.7" y="1316.55" width="26.5" height="12.75" fill="#82c648"/>
<rect x="678.7" y="1304.30" width="26.5" height="12.75" fill="#b0d24e"/>
<rect x="678.7" y="1292.05" width="26.5" height="12.75" fill="#e3e25e"/>
<rect x="678.7" y="1279.80" width="26.5" height="12.75" fill="#fbd554"/>
<rect x="678.7" y="1267.55" width="26.5" height="12.75" fill="#f6b44e"/>
<rect x="678.7" y="1255.30" width="26.5" height="12.75" fill="#f5953d"/>
<rect x="678.7" y="1243.05" width="26.5" height="12.75" fill="#f5782b"/>
<rect x="678.7" y="1230.80" width="26.5" height="12.75" fill="#ea5f27"/>
<rect x="678.7" y="1218.55" width="26.5" height="12.75" fill="#e24926"/>
<rect x="678.7" y="1206.30" width="26.5" height="12.75" fill="#d9302a"/>
<rect x="678.7" y="1194.05" width="26.5" height="12.75" fill="#d01d28"/>
<rect x="678.7" y="1181.80" width="26.5" height="12.75" fill="#be1c24"/>
<rect x="678.7" y="1169.55" width="26.5" height="12.75" fill="#ae1a20"/>
<rect x="678.7" y="1157.30" width="26.5" height="12.75" fill="#a0171e"/>
<rect x="678.7" y="1157.3" width="26.5" height="318.5" fill="none" stroke="#1a1a1a" stroke-width="2.2"/>
<text transform="translate(722.3,1170.6) scale(0.945,1)" font-size="43.3" font-family="Liberation Serif" font-weight="bold">-3</text>
<path d="M705.2 1263.5h-3.5" stroke="#1a1a1a" stroke-width="1.5"/>
<text transform="translate(722.3,1276.8) scale(0.945,1)" font-size="43.3" font-family="Liberation Serif" font-weight="bold">-4</text>
<path d="M705.2 1369.6h-3.5" stroke="#1a1a1a" stroke-width="1.5"/>
<text transform="translate(722.3,1382.9) scale(0.945,1)" font-size="43.3" font-family="Liberation Serif" font-weight="bold">-5</text>
<text transform="translate(722.3,1489.1) scale(0.945,1)" font-size="43.3" font-family="Liberation Serif" font-weight="bold">-6</text>
<text x="122.9" y="1145.6" font-size="42" font-family="Liberation Serif" font-weight="bold">(d) log<tspan dy="9" font-size="28">10</tspan><tspan dy="-9">(N</tspan><tspan dy="-14" font-size="27">2</tspan><tspan dy="14">) (s</tspan><tspan dy="-14" font-size="27">-2</tspan><tspan dy="14">)</tspan></text>
<g clip-path="url(#clipe)"><rect x="128.3" y="1607.1" width="525.2" height="240.7" fill="#dadada"/>
<path fill="#d2e2ea" stroke="#d2e2ea" stroke-width="0.6" fill-rule="evenodd" d="M128.3 1607.1L653.5 1607.1L653.5 1847.8L487.9 1847.8L487.6 1797.4L491.5 1795.2L500.3 1792.1L503.6 1790L504.7 1780.5L502.3 1773.2L500.3 1763.7L494.2 1753.2L493.7 1752.5L477.7 1749.2L470.8 1745.6L459.4 1742.3L452.6 1738.6L448 1734.1L432 1731.6L416 1726.3L408.7 1722.7L402.3 1717.7L391.1 1723.8L379.5 1728.1L373.5 1732.2L369.9 1736.4L366.8 1742.7L364.3 1847.8L128.3 1847.8Z"/>
<path fill="#c4e9fb" stroke="#c4e9fb" stroke-width="0.6" fill-rule="evenodd" d="M128.3 1607.1L653.5 1607.1L653.5 1847.8L552.4 1847.8L545.9 1841.5L535.8 1829.9L531.2 1822.6L528.3 1815.2L526 1806.8L521.5 1778.4L516.5 1766.9L504.5 1751.1L493.7 1743.7L470.8 1735.3L459.4 1729.1L448 1723.8L425.2 1715.4L402.3 1702.8L379.5 1709.2L376.1 1714.3L372.2 1717.5L365.8 1720.2L356.6 1722.5L351.8 1732.2L350 1740.6L348 1746.9L343.8 1774.2L339.2 1790L333.8 1847.8L128.3 1847.8Z"/>
<path fill="#addff7" stroke="#addff7" stroke-width="0.6" fill-rule="evenodd" d="M128.3 1607.1L653.5 1607.1L653.5 1847.8L585.9 1847.8L578.1 1841.7L562.2 1830.4L550.7 1817.8L539.3 1803.7L535.6 1795.2L531.1 1779.5L525.9 1766.9L516.8 1751.1L511.9 1746.2L503.2 1739.5L493.7 1733.8L475.4 1726L448 1712.2L425.2 1702.3L402.3 1690.7L393.2 1693.1L379.5 1695.6L375.4 1704.9L372.6 1708.4L363.8 1714.3L356.6 1717.2L350.1 1722.7L343.6 1732.2L339.1 1740.6L333.9 1746.9L330.5 1754.3L326.1 1760.6L320.1 1765.9L310.7 1771.1L294 1795.2L291.4 1847.8L181.6 1847.8L184.7 1844.6L185.9 1840.4L180.8 1836.9L174 1833.5L151.1 1835.8L148.5 1837.3L148.3 1838.3L149.5 1840.4L152.4 1843.6L156.1 1845.7L162.6 1847.8L128.3 1847.8Z"/>
<path fill="#94d0f1" stroke="#94d0f1" stroke-width="0.6" fill-rule="evenodd" d="M128.3 1607.1L653.5 1607.1L653.5 1847.8L604.2 1847.8L595.1 1834.1L585 1820.4L573.6 1811.6L562.2 1803.7L539.3 1776.9L534.3 1764.8L528.6 1753.2L523.3 1745.3L516.5 1736.9L505.1 1729.5L466.3 1709.8L448 1698.6L425.2 1690.8L402.3 1680.8L391 1684.9L379.5 1688L375 1694.4L372.2 1700.7L368.7 1705.9L364.3 1709.1L355.3 1713.3L343.7 1722.7L333.8 1733.9L289.4 1765.8L256.2 1799.6L239.4 1820.5L235.6 1823.6L231.1 1826.4L219.6 1830.5L196.8 1823.6L187.7 1820.1L174 1816.7L128.3 1823.7Z"/>
<path fill="#7bbae7" stroke="#7bbae7" stroke-width="0.6" fill-rule="evenodd" d="M128.3 1607.1L653.5 1607.1L653.5 1837L643.8 1833.1L630.7 1830.3L619.2 1826.4L607.8 1823.6L596.7 1805.8L585 1790.5L573.6 1782.9L562.2 1776.9L539.3 1753.8L533.6 1743.8L527.6 1735.3L520 1726.9L513.5 1721.7L505.1 1716.9L493.7 1712.2L470.8 1700.7L449 1689.1L434.3 1685.3L418.3 1680.3L402.3 1674L390.9 1677.8L379.5 1680.8L372.6 1689.6L369.1 1695.4L367 1700.7L362.6 1705.9L350.6 1712.2L333.8 1725.5L322.4 1730.6L311 1737L291.8 1742.7L286.3 1744.8L256.2 1761.8L246.3 1767.9L242.5 1770.6L231.1 1784.7L219.6 1797.3L196.8 1797.4L174 1793.7L159.9 1795.2L144.3 1798L135.2 1800.5L128.3 1803.4Z"/>
<path fill="#65a6de" stroke="#65a6de" stroke-width="0.6" fill-rule="evenodd" d="M128.3 1607.1L653.5 1607.1L653.5 1783.8L630.7 1786.9L607.8 1786.8L596.8 1771.1L585 1756.9L562.2 1753.6L557.6 1747.6L552.8 1742.7L546.2 1737.7L539.3 1733.8L528.2 1719.6L516.5 1707L507 1703.8L493.7 1700.6L480 1693.7L459.4 1685.8L441.1 1680.7L425.2 1677.3L402.3 1669.7L379.5 1675.7L374.7 1678.6L372.3 1680.7L370.3 1683.5L364.4 1694.4L361.7 1700.7L360 1702.8L356.6 1705.8L349.8 1709L344.3 1712.2L333.8 1720.6L320.8 1723.8L311 1727.1L265.3 1733.8L251.6 1732.5L242.5 1730.7L235.9 1740.6L228.6 1749L219.6 1757L209.1 1767.9L202.4 1773.2L196.8 1776.8L162.6 1767L157.6 1764.8L151.1 1760.4L135.2 1759L128.3 1757.3Z"/>
<path fill="#4f92d2" stroke="#4f92d2" stroke-width="0.6" fill-rule="evenodd" d="M128.3 1607.1L653.5 1607.1L653.5 1753.6L607.8 1746.8L603.3 1740.6L598.2 1735.3L592.6 1731.1L585 1726.8L557.6 1717L539.3 1713.6L534.8 1705.9L530.2 1700.3L524.5 1695.4L517.4 1691.2L493.7 1687.2L470.8 1682.3L448 1676.5L425.2 1672.3L402.3 1665.5L379.5 1670.7L370.3 1675L367.4 1677.5L365 1680.7L356.6 1700.4L342.9 1708.8L333.8 1715.4L311 1720.7L274.4 1717.7L256.2 1713.8L251.3 1712.2L246.3 1709.1L242.5 1703.5L234.2 1714.3L219.6 1730.6L212.8 1739.5L205.8 1744.8L193.1 1751.1L185.4 1752.8L174 1754L128.3 1746.9Z"/>
<path fill="#4692ab" stroke="#4692ab" stroke-width="0.6" fill-rule="evenodd" d="M128.3 1607.1L653.5 1607.1L653.5 1700.9L630.7 1704L623.8 1701.6L617.4 1698.6L612.7 1695.4L607.8 1691L594.1 1688.7L585 1685.7L571.3 1683.5L562.2 1680.2L539.3 1680.2L530.2 1681.6L516.5 1682.3L493.7 1679.6L470.8 1676L452.6 1672.2L425.2 1668.1L402.3 1662L388.6 1664.1L374.9 1667L368.1 1669.3L362.6 1672.3L360.1 1674.4L359 1676.5L356.4 1687L351.4 1692.3L345.7 1700.7L333.8 1710.5L311 1715.4L288.1 1713.6L265.3 1708.9L258.4 1703.8L255.4 1699.6L252.3 1684.9L250.6 1680.7L246.4 1673.3L242.5 1669L232 1683.8L225 1698.6L213.3 1717.5L204.6 1729L196.8 1736.8L174 1746.8L162.6 1743.7L128.3 1736.8Z"/>
<path fill="#479c84" stroke="#479c84" stroke-width="0.6" fill-rule="evenodd" d="M128.3 1607.1L653.5 1607.1L653.5 1680.7L610.5 1674.4L585 1672.4L562.2 1672.3L516.5 1673.9L493.7 1672.3L425.2 1663.9L402.3 1658.6L376.9 1661.8L359.9 1664.9L355.7 1666L349.3 1669.1L340.8 1674.4L337.3 1695.4L333.8 1703.3L329.2 1704.9L311 1709L290.4 1705.8L287.4 1704.9L276.3 1699.6L271.6 1695.4L267.8 1690.1L266.8 1673.3L265.6 1668.1L264.7 1667L256.2 1664.7L242.5 1662.4L234.8 1664.9L228.7 1668.1L219.6 1677.2L216 1688L212.6 1695.4L206.1 1707L196.8 1720.6L185.4 1726.5L174 1733.6L164.8 1731.8L151.1 1730L139.7 1726.3L128.3 1723.7Z"/>
<path fill="#46a963" stroke="#46a963" stroke-width="0.6" fill-rule="evenodd" d="M128.3 1607.1L653.5 1607.1L653.5 1665.6L630.7 1664.6L607.8 1665.5L585 1665.2L516.5 1667.6L493.7 1666.5L425.2 1659.7L402.3 1654.9L386.3 1657.8L356.6 1661.2L333.8 1662.6L304.1 1661.1L265.3 1658.3L242.5 1657.3L228.7 1659.7L219 1662.8L214.8 1667L211.1 1672.3L208.6 1677.5L206 1688L202 1694.4L196.8 1700.8L186.4 1708L174 1713.9L158 1711.6L146.6 1708.9L135.9 1704.9L128.3 1699.9ZM311 1678.7L313.5 1680.7L317.2 1684.9L320.2 1690.1L319.7 1692.3L317.7 1695.4L311 1701.9L294.9 1690.1L301.8 1684.1Z"/>
<path fill="#55b946" stroke="#55b946" stroke-width="0.6" fill-rule="evenodd" d="M128.3 1607.1L653.5 1607.1L653.5 1657.1L607.8 1657.1L539.3 1660.7L516.5 1661.2L493.7 1660.7L425.2 1655.4L402.3 1651.2L379.5 1655.9L356.6 1656.5L333.8 1656.1L265.3 1652.9L242.5 1652.3L224.2 1653.5L216.9 1654.4L208.1 1656.5L203.7 1659.2L201.4 1662.2L199.8 1667L198.1 1675.4L196.8 1686.3L183.1 1692.5L178.5 1695.8L174 1700.4L165.6 1698.6L150.8 1696.5L144.4 1688L139 1678.6L137.9 1670.2L137.1 1668.1L132.9 1664L128.3 1661.9Z"/>
<path fill="#82c648" stroke="#82c648" stroke-width="0.6" fill-rule="evenodd" d="M128.3 1607.1L653.5 1607.1L653.5 1651L607.8 1651L516.5 1654.7L493.7 1654.4L425.2 1650.5L402.3 1646.8L379.5 1652.3L333.8 1651.3L265.3 1648.1L219.6 1647.2L174 1648.9L151.1 1649L128.3 1650Z"/>
<path fill="#b0d24e" stroke="#b0d24e" stroke-width="0.6" fill-rule="evenodd" d="M128.3 1607.1L653.5 1607.1L653.5 1645L607.8 1645L516.5 1648.1L493.7 1648.1L425.2 1645.5L402.3 1642.3L379.5 1648.6L288.1 1643.9L242.5 1642.8L174 1643.4L128.3 1645Z"/>
<path fill="#e3e25e" stroke="#e3e25e" stroke-width="0.6" fill-rule="evenodd" d="M128.3 1607.1L653.5 1607.1L653.5 1640L607.8 1640L516.5 1642.9L493.7 1643.1L425.2 1641.3L402.3 1638.1L379.5 1644.2L311 1639.7L242.5 1637.9L174 1638.7L128.3 1640.2Z"/>
<path fill="#fbd554" stroke="#fbd554" stroke-width="0.6" fill-rule="evenodd" d="M128.3 1607.1L653.5 1607.1L653.5 1634.9L607.8 1634.9L511.5 1637.6L470.8 1637.9L425.2 1636.9L413.7 1635L402.3 1633.8L389.2 1636.5L379.5 1639.7L354.4 1637.3L311 1634.4L242.5 1632.8L219.6 1632.8L167.1 1634L128.3 1635.5Z"/>
<path fill="#f6b44e" stroke="#f6b44e" stroke-width="0.6" fill-rule="evenodd" d="M128.3 1607.1L653.5 1607.1L653.5 1627.7L607.8 1627.7L539.3 1629.8L493.7 1630.4L448 1629.9L402.3 1628.2L379.5 1633L356.6 1630.3L311 1627.2L288.1 1626.1L219.6 1626.1L174 1627.2L151.1 1628.3L128.3 1630.5Z"/>
<path fill="#f5953d" stroke="#f5953d" stroke-width="0.6" fill-rule="evenodd" d="M128.3 1607.1L653.5 1607.1L653.5 1622.6L607.8 1622.6L493.7 1625.8L448 1625.5L402.3 1623.4L379.5 1627.6L333.8 1622.9L288.1 1620.8L265.3 1621.3L219.6 1621.3L174 1622.4L128.3 1625.5Z"/>
<path fill="#f5782b" stroke="#f5782b" stroke-width="0.6" fill-rule="evenodd" d="M128.3 1607.1L653.5 1607.1L653.5 1617.3L607.8 1617.3L566.7 1618.2L516.5 1620.6L493.7 1621.2L448 1621.1L402.3 1618.2L386.3 1619.9L379.5 1621.9L370.3 1620.4L340.7 1617.1L320.1 1615.9L288.1 1615.4L174 1617.2L146.6 1619.7L128.3 1620.5Z"/>
<path fill="#ea5f27" stroke="#ea5f27" stroke-width="0.6" fill-rule="evenodd" d="M128.3 1607.1L144.6 1607.1L128.3 1615.5ZM420.6 1607.1L539.3 1607.1L539.3 1610.3L523.3 1611.7L516.5 1612.8L470.8 1614.1L448 1613.5L425.2 1611.7Z"/></g>
<rect x="128.3" y="1532.5" width="525.2" height="315.3" fill="none" stroke="#1a1a1a" stroke-width="2"/>
<path d="M242.5 1532.5v7M242.5 1847.8v-7M356.6 1532.5v7M356.6 1847.8v-7M470.8 1532.5v7M470.8 1847.8v-7M585.0 1532.5v7M585.0 1847.8v-7M128.3 1637.6h7M653.5 1637.6h-7M128.3 1742.7h7M653.5 1742.7h-7" stroke="#1a1a1a" stroke-width="1.8" fill="none"/>
<line x1="356.6" y1="1532.5" x2="356.6" y2="1847.8" stroke="#4a4040" stroke-width="2.7" stroke-dasharray="9.5 11.3" stroke-dashoffset="4.7"/>
<line x1="562.2" y1="1532.5" x2="562.2" y2="1847.8" stroke="#4a4040" stroke-width="2.7" stroke-dasharray="9.5 11.3" stroke-dashoffset="4.7"/>
<text transform="translate(122,1546.7) scale(0.915,1)" text-anchor="end" font-size="43.3" font-family="Liberation Serif" font-weight="bold">0</text>
<text transform="translate(122,1651.8) scale(0.915,1)" text-anchor="end" font-size="43.3" font-family="Liberation Serif" font-weight="bold">-10</text>
<text transform="translate(122,1756.9) scale(0.915,1)" text-anchor="end" font-size="43.3" font-family="Liberation Serif" font-weight="bold">-20</text>
<text transform="translate(122,1862.0) scale(0.915,1)" text-anchor="end" font-size="43.3" font-family="Liberation Serif" font-weight="bold">-30</text>
<polyline points="128.3,1753.2 151.1,1758.5 174.0,1763.7 196.8,1773.2 219.6,1781.6 242.5,1784.7 265.3,1783.7 288.1,1781.6 311.0,1772.1 333.8,1737.4 356.6,1700.7 379.5,1662.8 402.3,1643.9 425.2,1633.4 448.0,1630.2 470.8,1633.4 493.7,1637.6 516.5,1650.2 539.3,1667.0 562.2,1679.6 585.0,1698.6 607.8,1719.6 630.7,1738.5 653.5,1750.1" fill="none" stroke="#0a0af0" stroke-width="5" stroke-linejoin="round"/>
<rect x="678.7" y="1835.67" width="26.5" height="12.63" fill="#dadada"/>
<rect x="678.7" y="1823.55" width="26.5" height="12.63" fill="#d2e2ea"/>
<rect x="678.7" y="1811.42" width="26.5" height="12.63" fill="#c4e9fb"/>
<rect x="678.7" y="1799.29" width="26.5" height="12.63" fill="#addff7"/>
<rect x="678.7" y="1787.17" width="26.5" height="12.63" fill="#94d0f1"/>
<rect x="678.7" y="1775.04" width="26.5" height="12.63" fill="#7bbae7"/>
<rect x="678.7" y="1762.91" width="26.5" height="12.63" fill="#65a6de"/>
<rect x="678.7" y="1750.78" width="26.5" height="12.63" fill="#4f92d2"/>
<rect x="678.7" y="1738.66" width="26.5" height="12.63" fill="#4692ab"/>
<rect x="678.7" y="1726.53" width="26.5" height="12.63" fill="#479c84"/>
<rect x="678.7" y="1714.40" width="26.5" height="12.63" fill="#46a963"/>
<rect x="678.7" y="1702.28" width="26.5" height="12.63" fill="#55b946"/>
<rect x="678.7" y="1690.15" width="26.5" height="12.63" fill="#82c648"/>
<rect x="678.7" y="1678.02" width="26.5" height="12.63" fill="#b0d24e"/>
<rect x="678.7" y="1665.90" width="26.5" height="12.63" fill="#e3e25e"/>
<rect x="678.7" y="1653.77" width="26.5" height="12.63" fill="#fbd554"/>
<rect x="678.7" y="1641.64" width="26.5" height="12.63" fill="#f6b44e"/>
<rect x="678.7" y="1629.52" width="26.5" height="12.63" fill="#f5953d"/>
<rect x="678.7" y="1617.39" width="26.5" height="12.63" fill="#f5782b"/>
<rect x="678.7" y="1605.26" width="26.5" height="12.63" fill="#ea5f27"/>
<rect x="678.7" y="1593.13" width="26.5" height="12.63" fill="#e24926"/>
<rect x="678.7" y="1581.01" width="26.5" height="12.63" fill="#d9302a"/>
<rect x="678.7" y="1568.88" width="26.5" height="12.63" fill="#d01d28"/>
<rect x="678.7" y="1556.75" width="26.5" height="12.63" fill="#be1c24"/>
<rect x="678.7" y="1544.63" width="26.5" height="12.63" fill="#ae1a20"/>
<rect x="678.7" y="1532.50" width="26.5" height="12.63" fill="#a0171e"/>
<rect x="678.7" y="1532.5" width="26.5" height="315.3" fill="none" stroke="#1a1a1a" stroke-width="2.2"/>
<text transform="translate(722.3,1545.8) scale(0.945,1)" font-size="43.3" font-family="Liberation Serif" font-weight="bold">-3</text>
<path d="M705.2 1637.6h-3.5" stroke="#1a1a1a" stroke-width="1.5"/>
<text transform="translate(722.3,1650.9) scale(0.945,1)" font-size="43.3" font-family="Liberation Serif" font-weight="bold">-5</text>
<path d="M705.2 1742.7h-3.5" stroke="#1a1a1a" stroke-width="1.5"/>
<text transform="translate(722.3,1756.0) scale(0.945,1)" font-size="43.3" font-family="Liberation Serif" font-weight="bold">-7</text>
<text transform="translate(722.3,1861.1) scale(0.945,1)" font-size="43.3" font-family="Liberation Serif" font-weight="bold">-9</text>
<text x="125.1" y="1516.3" font-size="42" font-family="Liberation Serif" font-weight="bold">(e) log<tspan dy="9" font-size="28">10</tspan><tspan dy="-9">(ε) (W Kg</tspan><tspan dy="-14" font-size="27">-1</tspan><tspan dy="14">)</tspan></text>
<g clip-path="url(#clipf)"><rect x="128.3" y="1973.9" width="525.2" height="243.0" fill="#dadada"/>
<path fill="#d2e2ea" stroke="#d2e2ea" stroke-width="0.6" fill-rule="evenodd" d="M128.3 1973.9L653.5 1973.9L653.5 2216.9L524.4 2216.9L520.5 2214.8L516.5 2209.9L511.1 2216.9L128.3 2216.9Z"/>
<path fill="#c4e9fb" stroke="#c4e9fb" stroke-width="0.6" fill-rule="evenodd" d="M128.3 1973.9L653.5 1973.9L653.5 2216.9L563.5 2216.9L557.6 2215.3L539.3 2212.1L525.6 2206.4L516.5 2201.1L505.1 2199.7L493.7 2196.3L490.8 2202L487.1 2206.3L480 2210.2L470.8 2212.7L469.5 2216.9L128.3 2216.9Z"/>
<path fill="#addff7" stroke="#addff7" stroke-width="0.6" fill-rule="evenodd" d="M128.3 1973.9L653.5 1973.9L653.5 2216.9L587 2216.9L562.2 2207.7L539.3 2205.9L532.8 2199.9L527.3 2193.5L524.3 2189.3L516.9 2176.6L498.2 2174.4L495.6 2173.4L493.7 2171.6L488.3 2179.7L483.1 2192.5L482.3 2193.5L477.3 2196.7L467.2 2201L462.5 2204.1L459.4 2207.3L457.1 2210.7L456.1 2212.6L455.2 2216.9L128.3 2216.9Z"/>
<path fill="#94d0f1" stroke="#94d0f1" stroke-width="0.6" fill-rule="evenodd" d="M128.3 1973.9L653.5 1973.9L653.5 2216.9L628.2 2216.9L612.4 2213.7L585 2206.2L562.2 2197.7L548.5 2193.6L539.3 2189.6L531.2 2176.6L529.9 2175.5L526.7 2174.4L516.3 2172.3L509.6 2164.5L507.4 2159.6L505.4 2152.2L502.8 2133.1L498.3 2128.8L493.7 2126.3L486.8 2127.3L482.2 2128.7L478.8 2130.9L477.1 2133.1L475.4 2163.8L472.7 2175.5L470.8 2192.2L465 2185L459.4 2179.8L452.6 2175.1L448 2173.3L445.7 2177.6L444 2179.7L439.2 2182.9L425.2 2186.5L421.2 2189.3L418.3 2190.5L401.5 2193.5L390.3 2204.1L379.8 2216.9L176.9 2216.9L173.9 2212.6L160.4 2208.4L151.1 2203.3L137.4 2201.6L128.3 2199.6Z"/>
<path fill="#7bbae7" stroke="#7bbae7" stroke-width="0.6" fill-rule="evenodd" d="M128.3 1973.9L653.5 1973.9L653.5 2211.1L630.7 2207.7L607.8 2203L585 2196.1L566.7 2188.3L556.5 2182.9L549.2 2177.6L543.9 2172.4L537 2163.5L531.5 2157.5L524 2151.1L516.5 2146.2L511.8 2132L508.9 2127.8L506.3 2125.6L500.5 2123.9L488 2121.4L470.8 2116.5L460.2 2109.7L448 2104.9L425.2 2102.7L402.3 2103.2L400 2108.3L396.8 2110.8L390.9 2112.4L379.5 2113.9L378.6 2147.9L376.9 2169.1L374.6 2177.6L370.5 2185L368.1 2187.7L364.6 2190.4L356.6 2194.2L347.5 2196.6L333.8 2198.5L323.9 2203.1L311 2206.2L304 2216.9L217.2 2216.9L208.3 2214.8L202.6 2212.6L183.1 2203.5L174 2197.7L151.1 2193L128.3 2189.8ZM402.3 2130.3L407.5 2138.4L411.6 2141.5L416.3 2143.7L425.2 2146.6L434.3 2147.5L448 2147.9L452.5 2158.5L451.4 2159.6L448 2161.2L440.6 2162.8L425.2 2169.3L413.7 2172.7L402.3 2175L393.2 2172L390.3 2170.2L388.3 2167L384.8 2156.4L385.1 2153.2L386.7 2146.8L391.6 2136.2L395 2133.1Z"/>
<path fill="#65a6de" stroke="#65a6de" stroke-width="0.6" fill-rule="evenodd" d="M128.3 1973.9L653.5 1973.9L653.5 2203L642.1 2200.8L630.7 2197.7L607.8 2194.5L604.8 2193.5L591.8 2188.9L580.6 2184L571.3 2178.9L563 2173.4L554.4 2165.9L549.4 2158.5L545 2144.7L539.3 2116.9L516.5 2116.4L513.1 2112.9L509.6 2110.7L502.8 2108.2L494.5 2106.5L489.1 2103.3L484.5 2101.7L470.8 2099.2L467.5 2097L461.7 2095.6L434.3 2093.1L402.3 2092.8L400 2096.8L396.8 2099.1L388.6 2101.9L379.5 2104.1L376.1 2114L376.1 2133.1L374 2153.2L370.6 2168.1L368.3 2172.3L362.4 2178.7L356.6 2182.4L345.2 2185.5L325.4 2189.3L311 2192.9L307.7 2197.8L298.5 2209.4L293.6 2216.9L261.4 2216.9L251.6 2215.3L242.5 2212.6L219.6 2207.8L187.7 2195.9L174 2189.8L128.3 2182.8Z"/>
<path fill="#4f92d2" stroke="#4f92d2" stroke-width="0.6" fill-rule="evenodd" d="M128.3 1973.9L653.5 1973.9L653.5 2196.1L639.8 2192.6L630.7 2189.7L607.8 2186L590.2 2178.7L578.1 2172.6L571.3 2168.1L561.8 2158.5L556.4 2142.6L551.4 2124.6L547.6 2116.1L539.3 2101.3L530.2 2098.1L525.6 2095.6L521.1 2092.1L516.5 2086.6L504.8 2083.2L498.3 2080L493.7 2076.4L484.5 2073.8L480 2071.9L475.4 2069.1L470.8 2064.8L460.9 2063L454.8 2061.3L450.4 2058.8L448 2056.6L438.9 2055.4L432.2 2053.5L428.6 2051.4L425.2 2047.3L409.2 2045.6L402.3 2043.7L400.8 2057.7L400.4 2080L398 2092.7L396.7 2094.9L393.6 2097L388.6 2098.9L379.5 2100.8L375.2 2104.4L372.7 2114L373.1 2132L371.8 2143.7L369.4 2154.3L363.6 2169.1L361.2 2171.7L356.6 2175L333.8 2180.2L311 2179.7L308.7 2185L305.5 2190.4L288.1 2209.5L231.1 2201.6L219.6 2199.4L199.1 2193.8L174 2183.3L128.3 2175.8Z"/>
<path fill="#4692ab" stroke="#4692ab" stroke-width="0.6" fill-rule="evenodd" d="M128.3 1973.9L653.5 1973.9L653.5 2189.6L641.9 2185L630.7 2179.5L607.8 2177.7L603.3 2173.9L598.7 2171.5L585 2167.6L578.1 2157.8L567 2138.4L564.7 2133.1L562.1 2124.6L554 2112.9L546.4 2100.2L539.3 2093.1L534.8 2090.6L516.5 2078L492.1 2067.3L470.8 2057.1L446 2049.2L434.3 2044.6L425.2 2041.7L402.3 2039.1L399.6 2043.9L398.5 2057.7L398.4 2077.9L397.6 2082.1L395.6 2086.4L393.7 2092.7L391.9 2094.9L386.3 2097.3L375.9 2100.2L372.9 2102.3L371.2 2104.4L369.4 2112.9L370.1 2132L368.6 2142.6L365 2154.3L359.6 2164.9L356.6 2169.4L342.9 2171.3L333.8 2173.6L311 2168.1L309.3 2175.5L306.4 2180.7L298.6 2190.4L288.1 2199.4L265.3 2197.7L242.5 2197.9L219.6 2194.6L210.9 2192.5L204.7 2190.4L196.8 2186L184.2 2180.8L174 2175.9L128.3 2166.5Z"/>
<path fill="#479c84" stroke="#479c84" stroke-width="0.6" fill-rule="evenodd" d="M128.3 1973.9L653.5 1973.9L653.5 2181.2L646.1 2177.6L639.9 2173.4L630.7 2162.7L621.5 2160.9L614.7 2158.9L608.9 2156.4L596.4 2152.2L589.6 2148.1L585.5 2143.7L579.3 2138.4L575.6 2134.1L571.4 2123.5L567.4 2118.2L562.2 2112.8L555.2 2101.2L548.5 2092.1L541.9 2086.4L521.7 2072.6L511.9 2067.8L470.8 2049.7L425.2 2036.4L409.2 2035.4L402.3 2035.2L400 2037.8L397.2 2042.9L396.3 2057.7L396.2 2078.9L395.1 2082.1L392.2 2086.4L389.3 2092.7L388.6 2093.8L386.3 2095.2L371.1 2100.2L368.7 2102.3L367.2 2104.4L366 2112.9L367.1 2132L366.1 2138.4L364.9 2143.7L362.1 2151.1L360 2155.3L356.6 2160.1L333.8 2162.3L311 2161.2L305.3 2167L306.9 2172.3L307 2174.4L306 2176.6L294.3 2188.2L288.1 2193L242.5 2192.9L219.6 2191L203.7 2185.3L200 2182.9L196.8 2179.6L185.4 2174.2L174 2167.8L148.9 2162.1L128.3 2159.3Z"/>
<path fill="#46a963" stroke="#46a963" stroke-width="0.6" fill-rule="evenodd" d="M128.3 1973.9L653.5 1973.9L653.5 2172.5L646.1 2161.7L642.1 2158.1L637.5 2154.9L630.7 2151.5L607.8 2146L603 2141.5L598.2 2138.4L585 2132.7L581.4 2123.5L577.4 2116.1L571 2107.6L562.2 2099.4L559.2 2092.7L555.3 2086.9L548.3 2080L539.3 2074.5L530.2 2067.5L523.3 2063.9L470.8 2042.2L425.2 2030.6L402.3 2031.4L397 2037.6L394.3 2043.9L394 2057.7L394.5 2072.6L393.9 2080L388.7 2086.4L384.1 2093.8L381.8 2095.1L372.6 2097.3L368.1 2099.1L365.2 2101.2L363.5 2103.8L362.6 2106.5L362.5 2112.9L364 2133.1L361.5 2143.7L356.6 2153.6L333.8 2155.8L311 2156.2L303.5 2160.6L298.8 2167L303.4 2171.3L304.4 2174.4L303.9 2175.5L299.6 2179.6L294.3 2182.9L288.1 2188.1L265.3 2187.8L242.5 2188.8L219.6 2187.7L210.7 2185L201.1 2179.7L198.6 2176.6L196.8 2172.6L185.2 2163.8L174 2156.3L151.1 2151L128.3 2147.8Z"/>
<path fill="#55b946" stroke="#55b946" stroke-width="0.6" fill-rule="evenodd" d="M128.3 1973.9L653.5 1973.9L653.5 2147.9L639.8 2144.7L619.2 2137.5L614.3 2134.1L607.8 2126.3L599 2122.4L594.2 2119.3L591 2116.1L585 2106.5L576.5 2099.1L571.3 2092.9L569.2 2089.6L566.3 2082.1L562.7 2076.8L552.4 2068.3L539.4 2059.8L530.2 2056.5L516.5 2052.8L501 2046.1L470.8 2034.8L425.2 2024.8L402.3 2023.3L398.2 2031.2L394.3 2036.5L391.8 2042.9L391.6 2053.5L392.5 2071.5L391.7 2080L390.1 2082.1L385.3 2086.4L379.7 2093.8L369.4 2095.9L364.1 2098L361.4 2100.2L359.2 2104.4L358.7 2106.5L359.1 2112.9L361.1 2132L358.5 2142.6L356.6 2146.3L333.8 2150.5L320.1 2148.7L311 2146.6L306.4 2153.2L298.3 2157.5L296.1 2159.6L294.6 2161.7L292.2 2167L297.3 2169.3L300.1 2171.3L301.8 2174.4L301.3 2175.5L295.6 2179.7L288.1 2183.6L242.5 2186.4L219.6 2185.5L217.4 2184.8L205.9 2180.1L203.7 2178.5L201.8 2176.6L200.9 2174.4L201.2 2170.2L203.1 2167L200.5 2162.8L194.5 2157.9L177.6 2146.8L174 2144.9L160.3 2142.8L151.1 2140.1L137.6 2138.4L128.3 2136.4Z"/>
<path fill="#82c648" stroke="#82c648" stroke-width="0.6" fill-rule="evenodd" d="M128.3 1973.9L653.5 1973.9L653.5 2141L649.3 2138.4L644.4 2136.6L630.7 2134.3L625.6 2126.7L622.4 2123.5L617 2120L607.6 2116.1L600.7 2105.5L593.2 2099.1L585 2093.8L582 2090.6L581.4 2089.6L582.1 2084.3L584.5 2073.6L574.3 2070.5L569.9 2068.3L566.4 2065.2L562.2 2058.6L547 2054.5L541.6 2051.3L539.3 2048.9L527.9 2047.1L521.1 2045.4L515.1 2042.9L484.5 2033.1L470.8 2028L425.2 2020L402.3 2018.4L398.4 2021.7L396.7 2023.8L393.8 2031.2L390.9 2036.6L389 2042.9L389.2 2053.5L390.4 2071.5L389.5 2080L387.6 2082.1L381.8 2086.4L379.5 2089L372.6 2092.1L362.2 2094.9L360 2095.9L351.5 2105.5L351.3 2106.5L353 2112.9L356.6 2121.7L358.1 2132L356.6 2137.7L347.5 2142.4L333.8 2145.2L326.6 2143.7L321.1 2141.5L319.7 2140.5L316.9 2136.2L311 2131.1L307 2137.3L304.6 2144.7L300.8 2152.2L299.6 2153.2L290.2 2156.4L285.9 2158.5L273.8 2160.6L276.7 2162.3L278.5 2165.9L282 2167L288.1 2167.8L292.7 2169.2L296.8 2171.3L299.2 2174.4L298.6 2175.5L295 2178L288.1 2181.3L276.7 2182.2L242.5 2184.1L219.6 2183.3L208.2 2179.1L205.1 2176.6L204.2 2174.4L204.9 2172.3L206.7 2170.2L214.3 2167L215.5 2162.8L218.1 2157.5L215.3 2156.4L205.9 2154.6L202.6 2153.2L200.1 2151.1L196.8 2146.8L185.4 2144.5L174 2140L160.3 2137.6L151.1 2134.8L137.4 2133.2L128.3 2131.5Z"/>
<path fill="#b0d24e" stroke="#b0d24e" stroke-width="0.6" fill-rule="evenodd" d="M128.3 1973.9L653.5 1973.9L653.5 2120.7L649.3 2119.3L645.3 2115L642.1 2113L630.7 2110.8L628.6 2109.7L624.5 2103.3L619.8 2099.1L614.7 2096.4L607.8 2094.3L604.2 2091.7L602.3 2089.6L600.8 2080L597.4 2073.6L594.1 2071.5L582.7 2068L578.6 2066.2L573.6 2062L570.3 2057.7L567.9 2056.7L548.5 2050.3L542.1 2047.1L539.3 2045.1L530.2 2043.6L523.3 2041.6L519.5 2039.7L516.5 2036.5L498.2 2031.7L470.8 2023.1L448 2018.9L427.4 2016L402.3 2014.4L396.7 2017.4L392.7 2021.7L391.6 2023.8L387.3 2037.6L386.3 2043.9L388.4 2071.5L388 2077.9L387.3 2080L385.1 2082.1L379.5 2085.6L370.3 2089.2L362.5 2091.7L348.8 2094.9L344.3 2099.1L341 2103.3L340.1 2106.5L340.3 2122.4L339.8 2132L336.1 2136.2L334 2140.5L331 2133.1L326.5 2125.6L322 2112.9L317.8 2109.5L311 2106.5L302.3 2112.9L298.1 2117.1L298 2118.2L301.2 2127.8L301.3 2129.9L298.5 2137.3L294.8 2151.1L294.3 2152.2L292.9 2153.2L288.1 2154.7L265.3 2157.6L242.5 2157.4L219.6 2154.4L213.9 2153.2L209.7 2151.1L207.3 2146.8L203.7 2145.6L189.7 2142.6L183.1 2139.1L167.1 2135.8L157.1 2133.1L142 2130.8L128.3 2127.9ZM263.6 2167L288.1 2169.2L293.5 2171.3L296.7 2174.4L294.4 2176.6L288.1 2179.6L265.3 2181.5L242.5 2181.9L219.6 2181.4L211.3 2178.7L207.5 2175.5L208.1 2173.4L210.5 2171.1L215.1 2169.2L219.6 2168.2L242.5 2168.1Z"/>
<path fill="#e3e25e" stroke="#e3e25e" stroke-width="0.6" fill-rule="evenodd" d="M128.3 1973.9L653.5 1973.9L653.5 2078.6L637.5 2077.2L632.9 2076.2L630.7 2075L617 2073.6L610.1 2072.3L607.8 2071.3L604.5 2068.3L601 2066.7L594.1 2064.8L585 2063.3L582 2060.9L579.5 2057.7L573.6 2054.3L567.5 2052.4L553 2049.4L546.6 2047.1L543.7 2045L539.3 2043L532.5 2041.7L525.6 2039.6L522.4 2037.6L516.5 2031.7L505.1 2029L493.7 2024.8L470.8 2018.4L448 2014.1L425.2 2011.6L402.3 2010.4L395.5 2012.7L391.5 2015.3L388.6 2018.5L386.4 2023.8L383.6 2042.9L386.4 2072.6L385.7 2078.9L382.6 2082.1L379.5 2083.9L373 2085.3L356.6 2090.5L338.4 2093.8L333.8 2095.4L327 2096.8L311 2098L305.5 2099.1L298.7 2101.2L293 2104.4L288.1 2109.4L281.5 2112.9L280.4 2114L279.1 2117.1L282 2121.4L283.4 2125.6L284.9 2126.7L288.1 2127.8L290.7 2129.9L291.1 2130.9L288.1 2151.4L269.9 2153L267.6 2153.5L265.3 2154.9L242.5 2154.6L240.4 2153.2L237.9 2152.5L219.6 2151.3L217.9 2146.8L215.1 2144.3L210.5 2143L196.8 2141.6L195.1 2138.4L191.6 2136.2L183.1 2134.8L174 2134.2L171.7 2132.2L168.1 2130.9L151.1 2129.3L144.3 2126.3L128.3 2124.2ZM265.3 2168.3L288.1 2170.4L292 2172.3L294.1 2174.4L292.7 2175.9L288.1 2178.1L265.3 2180.2L242.5 2180.7L219.6 2180.2L215.1 2178.7L210.6 2175.5L210.8 2174.4L213.1 2172.3L219.6 2169.7Z"/>
<path fill="#fbd554" stroke="#fbd554" stroke-width="0.6" fill-rule="evenodd" d="M128.3 1973.9L653.5 1973.9L653.5 2075.9L639.8 2073.7L621.8 2068.3L614.6 2062L613.1 2059.8L610.6 2053.5L609.6 2052.4L607.8 2051.8L585 2053.1L578.1 2051.2L559.9 2049.5L551.2 2047.1L546.8 2043.9L543.9 2042.6L529.1 2038.6L526.1 2036.5L521.1 2031.2L516.5 2028.2L502.8 2024L493.7 2020.5L470.8 2014.1L448 2010.4L402.3 2006.7L393.2 2007.7L388.5 2008.9L386.3 2010L384.3 2012.1L382.4 2016.3L381.1 2025.9L380.9 2041.8L384.3 2072.6L383.6 2078.9L383 2080L379.5 2082.5L365.8 2085.3L356.6 2088.1L333.8 2091.8L311 2093.2L288.1 2093.5L263 2092.4L219.6 2088.1L210.5 2090.3L196.8 2091.7L174 2090.7L128.3 2090.3ZM128.3 2106.5L196.8 2106.3L208.2 2107.1L215.1 2108.3L219.6 2111L237.9 2112.5L255.2 2116.1L260.7 2118.1L265.3 2119L267.5 2121.4L267.4 2122.4L265.3 2123.9L219.6 2125.9L211.9 2124.6L205.9 2122.6L202.3 2120.3L199.1 2117.3L196.8 2116.7L128.3 2116.7ZM265.3 2169.7L288.1 2171.8L291.5 2174.4L290.6 2175.5L288.1 2176.8L283.6 2177.3L265.3 2179L242.5 2179.6L219.6 2179L215.1 2176.7L213.8 2175.5L214 2174.4L215.1 2173.6L219.6 2171.2Z"/>
<path fill="#f6b44e" stroke="#f6b44e" stroke-width="0.6" fill-rule="evenodd" d="M128.3 1973.9L653.5 1973.9L653.5 2074L644.4 2072.1L636.3 2069.4L634.6 2068.3L630.7 2064.3L626.1 2060.9L625.3 2059.8L625.6 2058.8L630.7 2055.3L633.9 2051.4L632.3 2047.1L630.7 2045.4L617 2047L582.7 2048.4L562.2 2048.7L555.8 2047.1L550.7 2043.2L548.2 2041.8L537 2039.3L532.5 2037.6L529.7 2035.4L525.1 2030.1L516.7 2024.8L503.2 2020.6L493.7 2016.3L470.8 2009.7L459.4 2007.9L445.7 2006.4L390.9 2002.2L379.5 2000L375.2 2006.8L374.3 2030.1L375.8 2041.8L379.5 2052.7L381.7 2065.2L382.3 2071.5L381.7 2077.9L380.8 2080L379.5 2081L356.6 2085.9L333.8 2089.1L288.1 2090.1L265.3 2089L253.9 2087.7L247.3 2086.4L242.5 2084.7L231.1 2082.9L219.6 2080L210.5 2083.3L196.8 2085.9L128.3 2084.8ZM128.3 2107.7L196.8 2107.8L206.5 2108.7L209.4 2109.7L211.5 2111.8L211 2112.9L208.2 2113.4L199.1 2113.9L128.3 2114.1ZM217.1 2117.1L219.6 2116.3L223.3 2117.1L224.4 2118.2L219.6 2119.9L216.4 2118.2ZM265.3 2171.4L288.1 2173.8L288.9 2174.4L287.3 2175.5L265.3 2177.9L242.5 2178.5L219.6 2177.4L216.9 2175.5L217.3 2174.4L219.6 2173.1Z"/>
<path fill="#f5953d" stroke="#f5953d" stroke-width="0.6" fill-rule="evenodd" d="M128.3 1973.9L653.5 1973.9L653.5 2071.9L647.4 2070.5L643 2068.3L637.4 2063L634.9 2059.8L635.2 2058.8L642.5 2051.4L645.1 2047.1L649.4 2042.9L648.8 2041.8L630.7 2041L607.8 2043.1L585 2043.6L575.9 2046.2L562.2 2047.5L558.3 2046.1L556 2042.9L553 2040.7L548.5 2039.5L539.3 2038.4L535.7 2036.5L529.5 2029.1L525.6 2025.9L521.9 2023.8L509.5 2019.5L498.2 2013.8L482.2 2008.9L470.8 2003.5L448 2001.1L402.3 1999L379.5 1994.8L372.1 1999.4L368.2 2006.8L366.8 2030.1L366.9 2036.5L368.6 2041.8L372.9 2052.4L376.1 2056.7L377.2 2061.1L379.5 2064.7L380.2 2071.5L379.6 2077.9L379.1 2078.9L377.2 2079.6L356.6 2084.1L333.8 2087.1L288.1 2087.9L265.3 2086.8L260.7 2086.1L249.3 2083.5L246 2082.1L242.5 2079.9L219.6 2075.7L196.8 2082L174 2082.3L128.3 2081.5ZM219.6 2041.5L215.2 2043.9L215 2045L219.6 2047.9L223.8 2045L223.5 2043.9ZM128.3 2108.7L196.8 2108.6L201.3 2109.7L202 2110.8L201.5 2111.8L195.4 2112.9L128.3 2113.3ZM240.5 2173.4L265.3 2173.2L276.5 2174.4L274.8 2175.5L265.3 2176.8L242.5 2177.3L229.8 2176.6L222 2175.5L225.4 2174.4Z"/>
<path fill="#f5782b" stroke="#f5782b" stroke-width="0.6" fill-rule="evenodd" d="M128.3 1973.9L653.5 1973.9L653.5 2033.1L630.7 2032.8L607.8 2034.3L585 2034.4L580.4 2035L573.6 2036.4L569 2038.1L565.5 2040.7L562.2 2045.2L561.2 2040.7L559.3 2038.6L557.1 2037.6L553 2036.7L539.3 2035.6L534.4 2028L531.3 2024.8L528.2 2022.7L523.3 2020.6L516.1 2018.5L511.9 2015.1L505.1 2011L492.9 2007.9L482.6 2001.5L474.8 1998.3L470.8 1997.2L448 1995.6L402.3 1995L379.5 1989.7L365.7 1997.2L363 2001.5L361.1 2006.8L360.3 2011L359.1 2036.5L366.4 2052.4L371 2056.7L370.7 2058.8L368 2064.1L365.7 2067.3L370 2072.6L370 2073.6L371.8 2077.9L370.8 2078.9L356.6 2082.5L333.8 2085.3L288.1 2085.8L267.6 2084.9L260.7 2083.9L253.4 2082.1L249.2 2080L242.5 2075.1L219.6 2071.5L210.5 2075L196.8 2078.4L174 2078.9L128.3 2078.4ZM199.1 2037.7L195.6 2038.6L195.7 2039.7L199.3 2040.7L201.4 2042.1L203.8 2045L205.9 2046.5L208.8 2048.2L215.1 2050.5L219.6 2053.6L231.6 2047.1L233.8 2045L233.6 2040.7L232.1 2037.6L228.8 2036.3L219.6 2034.7ZM653.5 2049.6L653.5 2069.5L646.6 2064.4L642.3 2059.8L642.7 2058.8L644.4 2057.2ZM128.3 2109.3L174 2109.3L181.9 2109.7L183.8 2110.8L178.5 2111.8L174 2112L128.3 2112ZM240.2 2175.5L242.5 2175L250.4 2175.5Z"/>
<path fill="#ea5f27" stroke="#ea5f27" stroke-width="0.6" fill-rule="evenodd" d="M128.3 1973.9L653.5 1973.9L653.5 2018.9L630.7 2018.9L607.8 2020.3L585 2020.3L562.2 2018.8L539.3 2026.2L536.2 2021.7L523.5 2013.2L519.7 2008.9L516.5 2003L502.8 2000.2L491.4 1996.3L470.8 1992.6L448 1991.3L425.2 1991.3L402.3 1990.5L379.5 1984.7L357.7 1996.2L356.4 1997.2L353.6 2001.5L349.8 2004.4L345.2 2006.2L334 2008.9L330.2 2011L324.6 2016.3L319.2 2022.7L313.9 2031.2L312.5 2035.4L313.3 2036.6L333.8 2039.6L342.9 2043.4L356.6 2046.2L359.8 2052.4L366 2056.7L365.8 2057.7L363.5 2059.8L356.6 2064.3L339.6 2068.3L351 2071.5L358.9 2074.9L362.6 2076.8L363.5 2077.9L362.5 2078.9L352.9 2081.1L333.8 2083.6L288.1 2084.1L265.3 2083.1L257.7 2081.1L253.9 2078.9L253 2077.9L252.6 2074.7L253.1 2072.6L254 2071.5L252.3 2070.5L219.6 2068.7L196.8 2075.7L174 2076.5L128.3 2075.7L128.3 2049.3L196.8 2047.8L208.2 2051L219.6 2056.5L230.5 2053.5L242.5 2046.8L252.5 2045L265.3 2041.2L283.8 2037.6L286.8 2036.5L286.6 2035.4L277.7 2028L268.2 2021.7L265.3 2020.5L263.8 2021.7L260.7 2022.3L242.5 2022.7L235.6 2024.3L219.6 2025L210.5 2027.7L180.8 2031.8L174 2032.3L128.3 2032ZM653.5 2056L653.5 2063.5L649.7 2059.8L650.1 2058.8Z"/>
<path fill="#e24926" stroke="#e24926" stroke-width="0.6" fill-rule="evenodd" d="M128.3 1973.9L653.5 1973.9L653.5 2014.1L630.7 2014.1L607.8 2015.7L585 2015.7L562.2 2013.1L548.5 2012.7L539.3 2011.7L531.5 2007.9L516.5 1996.7L493.7 1991.8L470.8 1988.1L448 1987.1L425.2 1987.1L402.3 1986L379.5 1979.7L372.6 1983.7L356.6 1991.8L344.4 1997.2L339.1 2000.4L333.8 2002.4L311 2006.1L269.9 2014.9L249.3 2018.3L219.6 2021.8L197.9 2025.9L174 2029L128.3 2028.2ZM196.8 2050L201.4 2051.2L219.6 2058.9L231.5 2056.7L242.5 2052.8L311 2052.2L333.8 2054.4L356.6 2054.3L360.9 2056.7L360.5 2057.7L356.6 2059.9L317.7 2068.3L314.8 2069.4L317 2070.5L332 2073.6L347.5 2075.9L354.4 2077.9L353.1 2078.9L333.8 2082L288.1 2082.5L265.3 2081.3L260.2 2078.9L259.7 2077.9L260.4 2076.8L265.3 2074.1L285.3 2070.5L282.3 2069.4L265.3 2067.7L219.6 2065L210 2069.4L196.8 2073.1L174 2074.1L128.3 2073.1L128.3 2051.6Z"/>
<path fill="#d9302a" stroke="#d9302a" stroke-width="0.6" fill-rule="evenodd" d="M128.3 1973.9L653.5 1973.9L653.5 2009.9L630.7 2009.9L607.8 2011.5L585 2011.5L555.3 2008.5L543.9 2006.7L537 2004.8L528.9 2000.4L516.5 1992.4L493.7 1987.2L470.8 1983.9L448 1983.1L425.2 1983.1L402.3 1982L379.5 1974.9L363.5 1984.1L346.8 1991.9L333.8 1996.8L324.7 1999.2L311 2001.5L298.6 2004.7L256.2 2013.6L219.6 2018.9L196.8 2023.1L174 2025.8L128.3 2024.7ZM196.8 2052L201.4 2053.5L215.7 2059.8L218 2060.9L218.4 2062L205.3 2068.3L196.8 2070.9L174 2071.9L128.3 2070.9L128.3 2053.6ZM311 2054.4L317.8 2055L342.5 2058.8L311 2066.6L288.1 2067L256.2 2064.3L242.5 2062.3L233.3 2061.8L229.4 2060.9L242.5 2057.2L253.9 2055.4L265.3 2054.6ZM311 2074.4L333.8 2076.2L342.2 2077.9L341.5 2078.9L333.8 2080.2L311 2080.9L283.6 2080.4L269.3 2078.9L268.4 2077.9L274.4 2076.6L288.1 2074.9Z"/>
<path fill="#d01d28" stroke="#d01d28" stroke-width="0.6" fill-rule="evenodd" d="M128.3 1973.9L373.4 1973.9L361 1981.3L342.5 1989.8L333.8 1993.2L244.8 2012.4L219.6 2016L196.8 2020L174 2022.3L128.3 2021.5ZM393.5 1973.9L653.5 1973.9L653.5 2006.4L630.7 2006.4L607.8 2008L585 2008L562.2 2005.6L539.3 2001.9L527.1 1995.1L516.5 1988.2L508.4 1986.6L470.8 1979.7L448 1979L425.2 1979L402.3 1977.8ZM174 2054L196.8 2054L209.4 2059.8L211.2 2060.9L211.1 2062L196.8 2068.6L174 2069.7L151.1 2069.6L128.3 2068.6L128.3 2055.6ZM265.1 2056.7L311 2056.3L322.7 2058.8L322.8 2059.8L311 2063L265.3 2062.4L257.9 2060.9L257.6 2059.8ZM287.8 2077.9L311 2077.2L320.3 2077.9L317.1 2078.9L311 2079.2L294.2 2078.9Z"/>
<path fill="#be1c24" stroke="#be1c24" stroke-width="0.6" fill-rule="evenodd" d="M128.3 1973.9L365.8 1973.9L356.6 1979.6L333.4 1989.8L242.5 2009.8L196.8 2016.7L174 2018.9L128.3 2018.3ZM463.2 1973.9L653.5 1973.9L653.5 2003L630.7 2003L607.8 2004.6L585 2004.6L551.1 2000.4L539.3 1998.2L528.2 1991.9L523.1 1987.7L516.5 1984.9L497.4 1981.3L486.8 1978.1L470.1 1976ZM174 2056.1L196.8 2056.9L204.4 2060.9L203.8 2062L196.8 2065.3L174 2067L151.1 2066.6L128.3 2064.6L128.3 2058.7Z"/>
<path fill="#ae1a20" stroke="#ae1a20" stroke-width="0.6" fill-rule="evenodd" d="M128.3 1973.9L358.2 1973.9L349.8 1977.6L341.2 1982.4L333.8 1985.7L300.1 1994.1L242.5 2006.4L196.8 2013.3L174 2015.2L151.1 2015.2L128.3 2014.1ZM502.8 1973.9L653.5 1973.9L653.5 2000.1L630.7 2000.1L607.8 2001.4L585 2001.4L556.2 1998.3L539.3 1994.8L533 1990.9L530.7 1987.7L527.9 1985.6L523.3 1983.5L516.2 1981.3ZM174 2058.2L183.1 2058.8L196.3 2059.8L197.6 2060.9L195.8 2062L174 2064.2L151.1 2063.3L139 2062L140.1 2060.9Z"/>
<path fill="#a0171e" stroke="#a0171e" stroke-width="0.6" fill-rule="evenodd" d="M128.3 1973.9L343.6 1973.9L338.4 1977L333.8 1981.5L317.8 1983.9L313.9 1985.6L311 1987.6L293.4 1989.8L290.4 1991.1L288.1 1993.1L272.2 1994.4L267.6 1995.7L265.3 1997.7L247.3 1999.4L244.6 2000.4L242.5 2002.4L224.2 2003.9L221.7 2004.7L219.6 2006.1L201.4 2007.4L196.8 2009.1L169.4 2010.7L151.1 2010.7L139.7 2009.6L128.3 2009.2ZM525.6 1973.9L653.5 1973.9L653.5 1996.5L628.4 1996.6L607.8 1997.7L585 1997.7L578.1 1996.6L562.2 1995.8L559.9 1993.9L555.3 1992.3L539.3 1991L536.8 1984.5Z"/></g>
<rect x="128.3" y="1899.0" width="525.2" height="318.3" fill="none" stroke="#1a1a1a" stroke-width="2"/>
<path d="M242.5 1899.0v7M242.5 2217.3v-7M356.6 1899.0v7M356.6 2217.3v-7M470.8 1899.0v7M470.8 2217.3v-7M585.0 1899.0v7M585.0 2217.3v-7M128.3 2005.1h7M653.5 2005.1h-7M128.3 2111.2h7M653.5 2111.2h-7" stroke="#1a1a1a" stroke-width="1.8" fill="none"/>
<line x1="356.6" y1="1899.0" x2="356.6" y2="2217.3" stroke="#4a4040" stroke-width="2.7" stroke-dasharray="9.5 11.3" stroke-dashoffset="4.7"/>
<line x1="562.2" y1="1899.0" x2="562.2" y2="2217.3" stroke="#4a4040" stroke-width="2.7" stroke-dasharray="9.5 11.3" stroke-dashoffset="4.7"/>
<text transform="translate(122,1913.2) scale(0.915,1)" text-anchor="end" font-size="43.3" font-family="Liberation Serif" font-weight="bold">0</text>
<text transform="translate(122,2019.3) scale(0.915,1)" text-anchor="end" font-size="43.3" font-family="Liberation Serif" font-weight="bold">-10</text>
<text transform="translate(122,2125.4) scale(0.915,1)" text-anchor="end" font-size="43.3" font-family="Liberation Serif" font-weight="bold">-20</text>
<text transform="translate(122,2231.5) scale(0.915,1)" text-anchor="end" font-size="43.3" font-family="Liberation Serif" font-weight="bold">-30</text>
<polyline points="128.3,2121.8 151.1,2127.1 174.0,2132.4 196.8,2142.0 219.6,2150.5 242.5,2153.6 265.3,2152.6 288.1,2150.5 311.0,2140.9 333.8,2105.9 356.6,2068.8 379.5,2030.6 402.3,2011.5 425.2,2000.9 448.0,1997.7 470.8,2000.9 493.7,2005.1 516.5,2017.8 539.3,2034.8 562.2,2047.5 585.0,2066.6 607.8,2087.9 630.7,2107.0 653.5,2118.6" fill="none" stroke="#0a0af0" stroke-width="5" stroke-linejoin="round"/>
<rect x="678.7" y="2205.06" width="26.5" height="12.74" fill="#dadada"/>
<rect x="678.7" y="2192.82" width="26.5" height="12.74" fill="#d2e2ea"/>
<rect x="678.7" y="2180.57" width="26.5" height="12.74" fill="#c4e9fb"/>
<rect x="678.7" y="2168.33" width="26.5" height="12.74" fill="#addff7"/>
<rect x="678.7" y="2156.09" width="26.5" height="12.74" fill="#94d0f1"/>
<rect x="678.7" y="2143.85" width="26.5" height="12.74" fill="#7bbae7"/>
<rect x="678.7" y="2131.60" width="26.5" height="12.74" fill="#65a6de"/>
<rect x="678.7" y="2119.36" width="26.5" height="12.74" fill="#4f92d2"/>
<rect x="678.7" y="2107.12" width="26.5" height="12.74" fill="#4692ab"/>
<rect x="678.7" y="2094.88" width="26.5" height="12.74" fill="#479c84"/>
<rect x="678.7" y="2082.63" width="26.5" height="12.74" fill="#46a963"/>
<rect x="678.7" y="2070.39" width="26.5" height="12.74" fill="#55b946"/>
<rect x="678.7" y="2058.15" width="26.5" height="12.74" fill="#82c648"/>
<rect x="678.7" y="2045.91" width="26.5" height="12.74" fill="#b0d24e"/>
<rect x="678.7" y="2033.67" width="26.5" height="12.74" fill="#e3e25e"/>
<rect x="678.7" y="2021.42" width="26.5" height="12.74" fill="#fbd554"/>
<rect x="678.7" y="2009.18" width="26.5" height="12.74" fill="#f6b44e"/>
<rect x="678.7" y="1996.94" width="26.5" height="12.74" fill="#f5953d"/>
<rect x="678.7" y="1984.70" width="26.5" height="12.74" fill="#f5782b"/>
<rect x="678.7" y="1972.45" width="26.5" height="12.74" fill="#ea5f27"/>
<rect x="678.7" y="1960.21" width="26.5" height="12.74" fill="#e24926"/>
<rect x="678.7" y="1947.97" width="26.5" height="12.74" fill="#d9302a"/>
<rect x="678.7" y="1935.73" width="26.5" height="12.74" fill="#d01d28"/>
<rect x="678.7" y="1923.48" width="26.5" height="12.74" fill="#be1c24"/>
<rect x="678.7" y="1911.24" width="26.5" height="12.74" fill="#ae1a20"/>
<rect x="678.7" y="1899.00" width="26.5" height="12.74" fill="#a0171e"/>
<rect x="678.7" y="1899.0" width="26.5" height="318.3" fill="none" stroke="#1a1a1a" stroke-width="2.2"/>
<text transform="translate(722.3,1912.3) scale(0.945,1)" font-size="43.3" font-family="Liberation Serif" font-weight="bold">0</text>
<path d="M705.2 2005.1h-3.5" stroke="#1a1a1a" stroke-width="1.5"/>
<text transform="translate(722.3,2018.4) scale(0.945,1)" font-size="43.3" font-family="Liberation Serif" font-weight="bold">-2</text>
<path d="M705.2 2111.2h-3.5" stroke="#1a1a1a" stroke-width="1.5"/>
<text transform="translate(722.3,2124.5) scale(0.945,1)" font-size="43.3" font-family="Liberation Serif" font-weight="bold">-4</text>
<text transform="translate(722.3,2230.6) scale(0.945,1)" font-size="43.3" font-family="Liberation Serif" font-weight="bold">-6</text>
<text x="125.0" y="1883.5" font-size="42" font-family="Liberation Serif" font-weight="bold">(f) log<tspan dy="9" font-size="28">10</tspan><tspan dy="-9">(K</tspan><tspan dy="9" font-size="24">ρ</tspan><tspan dy="-9">) (m</tspan><tspan dy="-14" font-size="27">2</tspan><tspan dy="14">s</tspan><tspan dy="-14" font-size="27">-1</tspan><tspan dy="14">)</tspan></text>
<text transform="translate(128.3,2261.2) scale(0.94,1)" text-anchor="middle" font-size="43.3" font-family="Liberation Serif" font-weight="bold">0</text>
<text transform="translate(242.5,2261.2) scale(0.94,1)" text-anchor="middle" font-size="43.3" font-family="Liberation Serif" font-weight="bold">5</text>
<text transform="translate(356.6,2261.2) scale(0.94,1)" text-anchor="middle" font-size="43.3" font-family="Liberation Serif" font-weight="bold">10</text>
<text transform="translate(470.8,2261.2) scale(0.94,1)" text-anchor="middle" font-size="43.3" font-family="Liberation Serif" font-weight="bold">15</text>
<text transform="translate(585.0,2261.2) scale(0.94,1)" text-anchor="middle" font-size="43.3" font-family="Liberation Serif" font-weight="bold">20</text>
<text x="404" y="2333" text-anchor="middle" font-size="47" font-family="Liberation Serif" font-weight="bold">IST</text>
<text transform="translate(35,1138) rotate(-90)" text-anchor="middle" font-size="47" font-family="Liberation Serif" font-weight="bold">Depth (m)</text>
</svg></body></html>
